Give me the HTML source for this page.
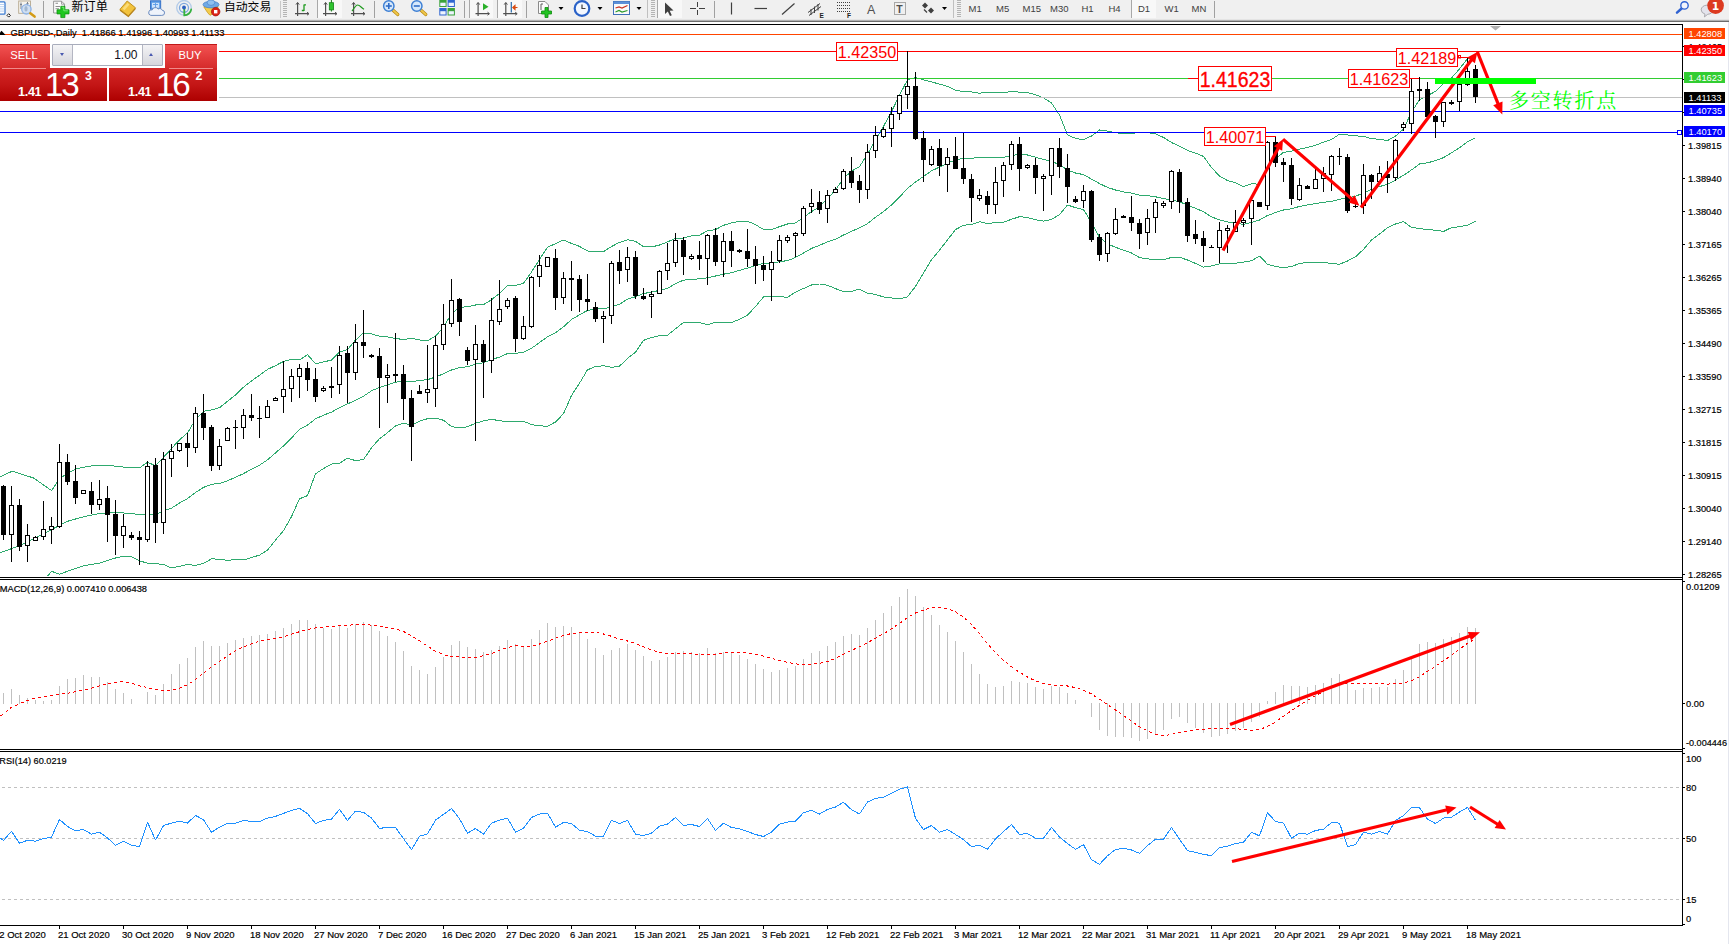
<!DOCTYPE html>
<html><head><meta charset="utf-8"><title>GBPUSD Daily</title>
<style>
html,body{margin:0;padding:0;background:#fff;}
body{width:1729px;height:944px;overflow:hidden;position:relative;font-family:"Liberation Sans","Noto Sans CJK SC",sans-serif;}
svg{position:absolute;left:0;top:0;display:block}
#tw{position:absolute;left:0;top:44px;width:218.5px;height:57px;color:#fff;background:#fff}
#tw div{position:absolute;box-sizing:border-box}
.top{background:linear-gradient(#f25252,#e03838 60%,#d42a2a);border-top:1px solid #c01818;}
.bot{background:linear-gradient(#d32626,#c41616 50%,#ad0000);}
.lbl{font-size:11.2px;line-height:12px;color:#fff;}
.sm{font-size:12.6px;font-weight:bold;line-height:12px;letter-spacing:-0.3px}
.big{font-size:33.2px;line-height:30px;letter-spacing:-2.2px}
.sup{font-size:12.4px;font-weight:bold;line-height:11px}
</style></head><body>
<svg width="1729" height="944" viewBox="0 0 1729 944">
<defs><clipPath id="mainclip"><rect x="0" y="25" width="1682" height="552"/></clipPath></defs>
<rect x="1728" y="22" width="1" height="922" fill="#e4e6ee"/>
<g clip-path="url(#mainclip)">
<polyline points="0.0,476.8 12.2,471.2 33.4,477.9 51.6,490.6 59.4,479.0 67.4,473.4 75.6,469.0 89.0,466.1 106.8,465.2 124.6,467.2 139.5,467.9 147.5,462.3 155.5,465.7 163.5,457.3 171.5,448.5 179.5,439.8 187.5,432.9 195.5,419.5 203.5,411.3 211.5,409.9 219.5,407.7 227.5,401.3 235.5,395.0 243.5,387.2 251.5,380.9 259.5,375.3 267.5,369.4 275.5,365.6 283.5,361.5 291.5,359.2 299.5,360.0 307.5,354.6 315.5,363.8 323.5,361.9 331.5,360.1 339.5,352.0 347.5,349.6 355.5,340.1 363.5,332.9 371.5,333.9 379.5,336.2 387.5,336.9 395.5,338.4 403.5,339.6 411.5,338.3 419.5,340.0 427.5,340.7 435.5,336.1 443.5,327.3 451.5,313.4 459.5,307.4 467.5,306.7 475.5,305.0 483.5,304.7 491.5,299.7 499.5,293.5 507.5,285.6 515.5,285.3 523.5,283.3 531.5,272.0 539.5,259.5 547.5,247.2 555.5,243.7 563.5,240.0 571.5,243.4 579.5,246.4 587.5,251.0 595.5,251.7 603.5,251.6 611.5,246.5 619.5,242.4 627.5,239.8 635.5,241.2 643.5,246.7 651.5,247.0 659.5,245.0 667.5,241.9 675.5,238.5 683.5,238.1 691.5,235.8 699.5,235.1 707.5,230.9 715.5,229.6 723.5,225.3 731.5,222.9 739.5,221.3 747.5,221.2 755.5,224.7 763.5,229.5 771.5,229.4 779.5,226.7 787.5,224.0 795.5,222.9 803.5,217.4 811.5,211.7 819.5,206.6 827.5,198.5 835.5,190.0 843.5,178.3 851.5,171.2 859.5,166.6 867.5,154.1 875.5,140.0 883.5,126.4 891.5,111.7 899.5,95.2 907.5,79.8 915.5,77.5 923.5,79.8 931.5,81.9 939.5,84.1 947.5,86.4 955.5,90.1 963.5,91.6 971.5,91.9 979.5,93.2 987.5,92.4 995.5,92.7 1003.5,92.6 1011.5,91.5 1019.5,92.1 1027.5,92.6 1035.5,94.7 1043.5,97.9 1051.5,102.9 1059.5,114.9 1067.5,134.8 1075.5,138.4 1083.5,139.7 1091.5,136.0 1099.5,129.9 1107.5,131.1 1115.5,132.7 1123.5,133.6 1131.5,133.3 1139.5,132.7 1147.5,132.6 1155.5,133.9 1163.5,137.4 1171.5,142.5 1179.5,146.1 1187.5,150.4 1195.5,153.1 1203.5,156.4 1211.5,167.6 1219.5,176.0 1227.5,180.5 1235.5,182.6 1243.5,186.6 1251.5,183.9 1259.5,184.1 1267.5,166.7 1275.5,158.7 1283.5,152.3 1291.5,151.2 1299.5,149.1 1307.5,147.5 1315.5,145.2 1323.5,142.2 1331.5,139.5 1339.5,134.2 1347.5,134.9 1355.5,135.9 1363.5,136.2 1371.5,138.8 1379.5,139.2 1387.5,140.6 1395.5,136.1 1403.5,129.0 1411.5,112.3 1419.5,99.6 1427.5,95.7 1435.5,91.4 1443.5,83.8 1451.5,78.0 1459.5,68.9 1467.5,58.6 1475.5,54.2" fill="none" stroke="#2eaa6e" stroke-width="1" stroke-linejoin="bevel" shape-rendering="crispEdges"/>
<polyline points="0.0,552.9 19.4,545.7 35.4,538.0 51.4,529.7 67.4,521.3 83.4,516.8 99.4,513.5 115.5,512.4 131.5,513.5 139.5,514.6 155.5,514.7 163.5,510.9 171.5,508.2 179.5,503.0 187.5,498.6 195.5,492.5 203.5,487.4 211.5,484.3 219.5,483.5 227.5,480.8 235.5,477.3 243.5,473.6 251.5,469.2 259.5,465.2 267.5,459.8 275.5,452.9 283.5,446.0 291.5,438.0 299.5,429.4 307.5,425.1 315.5,418.8 323.5,415.2 331.5,412.1 339.5,407.6 347.5,403.9 355.5,400.3 363.5,396.2 371.5,390.8 379.5,387.4 387.5,384.8 395.5,382.2 403.5,381.3 411.5,381.8 419.5,380.5 427.5,379.7 435.5,377.0 443.5,373.8 451.5,370.0 459.5,367.7 467.5,366.7 475.5,364.1 483.5,362.8 491.5,359.4 499.5,357.2 507.5,353.5 515.5,353.3 523.5,352.3 531.5,348.3 539.5,342.6 547.5,336.7 555.5,332.9 563.5,326.8 571.5,319.5 579.5,314.8 587.5,310.4 595.5,309.1 603.5,308.7 611.5,306.9 619.5,304.3 627.5,299.1 635.5,296.7 643.5,293.5 651.5,292.2 659.5,290.3 667.5,288.5 675.5,283.6 683.5,280.2 691.5,279.2 699.5,278.9 707.5,277.8 715.5,276.0 723.5,274.2 731.5,272.7 739.5,270.3 747.5,268.2 755.5,265.6 763.5,263.3 771.5,263.2 779.5,261.7 787.5,260.6 795.5,257.5 803.5,253.0 811.5,248.4 819.5,245.3 827.5,241.9 835.5,239.3 843.5,235.0 851.5,231.3 859.5,227.8 867.5,223.6 875.5,217.3 883.5,211.7 891.5,204.9 899.5,197.1 907.5,188.4 915.5,182.0 923.5,176.5 931.5,170.9 939.5,167.1 947.5,163.1 955.5,159.9 963.5,158.4 971.5,158.2 979.5,157.5 987.5,158.0 995.5,157.6 1003.5,157.3 1011.5,155.4 1019.5,154.4 1027.5,155.0 1035.5,157.2 1043.5,159.5 1051.5,161.2 1059.5,164.8 1067.5,169.9 1075.5,173.0 1083.5,174.6 1091.5,179.1 1099.5,183.6 1107.5,187.4 1115.5,190.0 1123.5,191.9 1131.5,193.1 1139.5,195.1 1147.5,195.7 1155.5,196.8 1163.5,198.6 1171.5,200.0 1179.5,201.7 1187.5,205.2 1195.5,208.3 1203.5,211.8 1211.5,216.8 1219.5,219.9 1227.5,221.9 1235.5,222.9 1243.5,224.4 1251.5,222.4 1259.5,220.0 1267.5,215.5 1275.5,212.6 1283.5,210.0 1291.5,208.8 1299.5,206.4 1307.5,204.9 1315.5,203.7 1323.5,202.3 1331.5,201.5 1339.5,199.2 1347.5,198.0 1355.5,196.3 1363.5,192.8 1371.5,189.5 1379.5,186.6 1387.5,184.2 1395.5,180.1 1403.5,175.3 1411.5,169.9 1419.5,164.0 1427.5,162.8 1435.5,160.7 1443.5,157.6 1451.5,152.8 1459.5,147.8 1467.5,141.8 1475.5,137.8" fill="none" stroke="#2eaa6e" stroke-width="1" stroke-linejoin="bevel" shape-rendering="crispEdges"/>
<polyline points="47.8,575.8 51.6,571.3 59.4,574.2 67.4,571.3 83.4,565.8 99.4,563.1 115.5,558.0 123.5,556.2 131.5,556.9 139.5,560.9 147.5,563.1 155.5,563.7 163.5,564.5 171.5,567.9 179.5,566.3 187.5,564.4 195.5,565.4 203.5,563.5 211.5,558.8 219.5,559.3 227.5,560.3 235.5,559.7 243.5,559.9 251.5,557.6 259.5,555.1 267.5,550.2 275.5,540.1 283.5,530.6 291.5,516.7 299.5,498.8 307.5,495.6 315.5,473.8 323.5,468.5 331.5,464.1 339.5,463.2 347.5,458.2 355.5,460.6 363.5,459.6 371.5,447.7 379.5,438.7 387.5,432.7 395.5,425.9 403.5,423.1 411.5,425.2 419.5,421.1 427.5,418.7 435.5,418.0 443.5,420.3 451.5,426.5 459.5,427.9 467.5,426.8 475.5,423.2 483.5,420.9 491.5,419.2 499.5,420.8 507.5,421.4 515.5,421.3 523.5,421.3 531.5,424.6 539.5,425.8 547.5,426.3 555.5,422.0 563.5,413.7 571.5,395.5 579.5,383.2 587.5,369.8 595.5,366.5 603.5,365.8 611.5,367.3 619.5,366.2 627.5,358.4 635.5,352.2 643.5,340.4 651.5,337.5 659.5,335.7 667.5,335.2 675.5,328.8 683.5,322.4 691.5,322.6 699.5,322.7 707.5,324.7 715.5,322.4 723.5,323.0 731.5,322.5 739.5,319.3 747.5,315.2 755.5,306.5 763.5,297.0 771.5,296.9 779.5,296.7 787.5,297.3 795.5,292.1 803.5,288.5 811.5,285.0 819.5,284.0 827.5,285.3 835.5,288.6 843.5,291.6 851.5,291.4 859.5,289.1 867.5,293.1 875.5,294.5 883.5,296.9 891.5,298.0 899.5,299.0 907.5,296.9 915.5,286.4 923.5,273.1 931.5,259.8 939.5,250.2 947.5,239.9 955.5,229.6 963.5,225.2 971.5,224.5 979.5,221.7 987.5,223.5 995.5,222.6 1003.5,222.1 1011.5,219.3 1019.5,216.7 1027.5,217.5 1035.5,219.7 1043.5,221.1 1051.5,219.5 1059.5,214.7 1067.5,205.0 1075.5,207.7 1083.5,209.6 1091.5,222.3 1099.5,237.3 1107.5,243.8 1115.5,247.3 1123.5,250.1 1131.5,253.0 1139.5,257.5 1147.5,258.9 1155.5,259.6 1163.5,259.8 1171.5,257.4 1179.5,257.3 1187.5,260.0 1195.5,263.4 1203.5,267.1 1211.5,266.0 1219.5,263.8 1227.5,263.4 1235.5,263.3 1243.5,262.1 1251.5,260.8 1259.5,256.0 1267.5,264.3 1275.5,266.5 1283.5,267.8 1291.5,266.4 1299.5,263.6 1307.5,262.3 1315.5,262.3 1323.5,262.3 1331.5,263.5 1339.5,264.2 1347.5,261.0 1355.5,256.8 1363.5,249.4 1371.5,240.1 1379.5,234.1 1387.5,227.7 1395.5,224.0 1403.5,221.6 1411.5,227.5 1419.5,228.5 1427.5,229.8 1435.5,230.1 1443.5,231.5 1451.5,227.6 1459.5,226.7 1467.5,225.1 1475.5,221.4" fill="none" stroke="#2eaa6e" stroke-width="1" stroke-linejoin="bevel" shape-rendering="crispEdges"/>
</g>
<rect x="0" y="34" width="1682" height="1" fill="#ff4500"/>
<rect x="0" y="51" width="1682" height="1" fill="#ff0000"/>
<rect x="0" y="78" width="1682" height="1" fill="#32cd32"/>
<rect x="1188" y="78" width="10" height="1" fill="#ff0000"/>
<rect x="1409" y="78" width="11" height="1" fill="#ff0000"/>
<rect x="0" y="97" width="1682" height="1" fill="#c0c0c0"/>
<rect x="0" y="111" width="1682" height="1" fill="#0000ff"/>
<rect x="0" y="132" width="1682" height="1" fill="#0000ff"/>
<g shape-rendering="crispEdges">
<rect x="3" y="485" width="1" height="55" fill="#000"/>
<rect x="1" y="486" width="5" height="49" fill="#000"/>
<rect x="11" y="486" width="1" height="76" fill="#000"/>
<rect x="9" y="505" width="5" height="30" fill="#000"/>
<rect x="10" y="506" width="3" height="28" fill="#fff"/>
<rect x="19" y="499" width="1" height="52" fill="#000"/>
<rect x="17" y="505" width="5" height="42" fill="#000"/>
<rect x="27" y="524" width="1" height="38" fill="#000"/>
<rect x="25" y="535" width="5" height="11" fill="#000"/>
<rect x="26" y="536" width="3" height="9" fill="#fff"/>
<rect x="35" y="536" width="1" height="5" fill="#000"/>
<rect x="33" y="537" width="5" height="4" fill="#000"/>
<rect x="34" y="538" width="3" height="2" fill="#fff"/>
<rect x="43" y="501" width="1" height="39" fill="#000"/>
<rect x="41" y="529" width="5" height="8" fill="#000"/>
<rect x="42" y="530" width="3" height="6" fill="#fff"/>
<rect x="51" y="517" width="1" height="27" fill="#000"/>
<rect x="49" y="526" width="5" height="4" fill="#000"/>
<rect x="50" y="527" width="3" height="2" fill="#fff"/>
<rect x="59" y="444" width="1" height="84" fill="#000"/>
<rect x="57" y="462" width="5" height="65" fill="#000"/>
<rect x="58" y="463" width="3" height="63" fill="#fff"/>
<rect x="67" y="454" width="1" height="31" fill="#000"/>
<rect x="65" y="462" width="5" height="20" fill="#000"/>
<rect x="75" y="465" width="1" height="39" fill="#000"/>
<rect x="73" y="481" width="5" height="17" fill="#000"/>
<rect x="83" y="490" width="1" height="4" fill="#000"/>
<rect x="81" y="490" width="5" height="4" fill="#000"/>
<rect x="82" y="491" width="3" height="2" fill="#fff"/>
<rect x="91" y="482" width="1" height="32" fill="#000"/>
<rect x="89" y="491" width="5" height="14" fill="#000"/>
<rect x="99" y="480" width="1" height="30" fill="#000"/>
<rect x="97" y="499" width="5" height="6" fill="#000"/>
<rect x="98" y="500" width="3" height="4" fill="#fff"/>
<rect x="107" y="486" width="1" height="56" fill="#000"/>
<rect x="105" y="498" width="5" height="17" fill="#000"/>
<rect x="115" y="500" width="1" height="55" fill="#000"/>
<rect x="113" y="514" width="5" height="22" fill="#000"/>
<rect x="123" y="514" width="1" height="34" fill="#000"/>
<rect x="121" y="526" width="5" height="10" fill="#000"/>
<rect x="122" y="527" width="3" height="8" fill="#fff"/>
<rect x="131" y="532" width="1" height="8" fill="#000"/>
<rect x="129" y="535" width="5" height="3" fill="#000"/>
<rect x="139" y="531" width="1" height="34" fill="#000"/>
<rect x="137" y="537" width="5" height="3" fill="#000"/>
<rect x="147" y="461" width="1" height="81" fill="#000"/>
<rect x="145" y="466" width="5" height="74" fill="#000"/>
<rect x="146" y="467" width="3" height="72" fill="#fff"/>
<rect x="155" y="458" width="1" height="85" fill="#000"/>
<rect x="153" y="465" width="5" height="58" fill="#000"/>
<rect x="163" y="452" width="1" height="82" fill="#000"/>
<rect x="161" y="459" width="5" height="64" fill="#000"/>
<rect x="162" y="460" width="3" height="62" fill="#fff"/>
<rect x="171" y="444" width="1" height="33" fill="#000"/>
<rect x="169" y="451" width="5" height="8" fill="#000"/>
<rect x="170" y="452" width="3" height="6" fill="#fff"/>
<rect x="179" y="443" width="1" height="9" fill="#000"/>
<rect x="177" y="443" width="5" height="8" fill="#000"/>
<rect x="178" y="444" width="3" height="6" fill="#fff"/>
<rect x="187" y="433" width="1" height="34" fill="#000"/>
<rect x="185" y="443" width="5" height="5" fill="#000"/>
<rect x="195" y="407" width="1" height="46" fill="#000"/>
<rect x="193" y="413" width="5" height="35" fill="#000"/>
<rect x="194" y="414" width="3" height="33" fill="#fff"/>
<rect x="203" y="394" width="1" height="46" fill="#000"/>
<rect x="201" y="413" width="5" height="15" fill="#000"/>
<rect x="211" y="425" width="1" height="46" fill="#000"/>
<rect x="209" y="427" width="5" height="39" fill="#000"/>
<rect x="219" y="439" width="1" height="31" fill="#000"/>
<rect x="217" y="446" width="5" height="20" fill="#000"/>
<rect x="218" y="447" width="3" height="18" fill="#fff"/>
<rect x="227" y="427" width="1" height="14" fill="#000"/>
<rect x="225" y="428" width="5" height="13" fill="#000"/>
<rect x="226" y="429" width="3" height="11" fill="#fff"/>
<rect x="235" y="420" width="1" height="29" fill="#000"/>
<rect x="233" y="427" width="5" height="1" fill="#000"/>
<rect x="243" y="409" width="1" height="30" fill="#000"/>
<rect x="241" y="415" width="5" height="13" fill="#000"/>
<rect x="242" y="416" width="3" height="11" fill="#fff"/>
<rect x="251" y="394" width="1" height="27" fill="#000"/>
<rect x="249" y="415" width="5" height="3" fill="#000"/>
<rect x="259" y="406" width="1" height="32" fill="#000"/>
<rect x="257" y="418" width="5" height="1" fill="#000"/>
<rect x="267" y="400" width="1" height="18" fill="#000"/>
<rect x="265" y="406" width="5" height="12" fill="#000"/>
<rect x="266" y="407" width="3" height="10" fill="#fff"/>
<rect x="275" y="397" width="1" height="4" fill="#000"/>
<rect x="273" y="398" width="5" height="3" fill="#000"/>
<rect x="274" y="399" width="3" height="1" fill="#fff"/>
<rect x="283" y="361" width="1" height="52" fill="#000"/>
<rect x="281" y="389" width="5" height="8" fill="#000"/>
<rect x="282" y="390" width="3" height="6" fill="#fff"/>
<rect x="291" y="369" width="1" height="33" fill="#000"/>
<rect x="289" y="376" width="5" height="13" fill="#000"/>
<rect x="290" y="377" width="3" height="11" fill="#fff"/>
<rect x="299" y="364" width="1" height="34" fill="#000"/>
<rect x="297" y="368" width="5" height="9" fill="#000"/>
<rect x="298" y="369" width="3" height="7" fill="#fff"/>
<rect x="307" y="362" width="1" height="29" fill="#000"/>
<rect x="305" y="368" width="5" height="12" fill="#000"/>
<rect x="315" y="368" width="1" height="34" fill="#000"/>
<rect x="313" y="379" width="5" height="18" fill="#000"/>
<rect x="323" y="386" width="1" height="6" fill="#000"/>
<rect x="321" y="388" width="5" height="3" fill="#000"/>
<rect x="322" y="389" width="3" height="1" fill="#fff"/>
<rect x="331" y="367" width="1" height="31" fill="#000"/>
<rect x="329" y="386" width="5" height="2" fill="#000"/>
<rect x="339" y="346" width="1" height="48" fill="#000"/>
<rect x="337" y="355" width="5" height="30" fill="#000"/>
<rect x="338" y="356" width="3" height="28" fill="#fff"/>
<rect x="347" y="346" width="1" height="57" fill="#000"/>
<rect x="345" y="353" width="5" height="20" fill="#000"/>
<rect x="355" y="324" width="1" height="56" fill="#000"/>
<rect x="353" y="342" width="5" height="31" fill="#000"/>
<rect x="354" y="343" width="3" height="29" fill="#fff"/>
<rect x="363" y="310" width="1" height="48" fill="#000"/>
<rect x="361" y="342" width="5" height="4" fill="#000"/>
<rect x="371" y="354" width="1" height="4" fill="#000"/>
<rect x="369" y="355" width="5" height="2" fill="#000"/>
<rect x="379" y="348" width="1" height="80" fill="#000"/>
<rect x="377" y="356" width="5" height="22" fill="#000"/>
<rect x="387" y="364" width="1" height="39" fill="#000"/>
<rect x="385" y="375" width="5" height="3" fill="#000"/>
<rect x="386" y="376" width="3" height="1" fill="#fff"/>
<rect x="395" y="333" width="1" height="49" fill="#000"/>
<rect x="393" y="374" width="5" height="2" fill="#000"/>
<rect x="403" y="365" width="1" height="55" fill="#000"/>
<rect x="401" y="374" width="5" height="25" fill="#000"/>
<rect x="411" y="390" width="1" height="71" fill="#000"/>
<rect x="409" y="398" width="5" height="29" fill="#000"/>
<rect x="419" y="385" width="1" height="9" fill="#000"/>
<rect x="417" y="391" width="5" height="3" fill="#000"/>
<rect x="427" y="345" width="1" height="58" fill="#000"/>
<rect x="425" y="389" width="5" height="4" fill="#000"/>
<rect x="426" y="390" width="3" height="2" fill="#fff"/>
<rect x="435" y="336" width="1" height="71" fill="#000"/>
<rect x="433" y="345" width="5" height="44" fill="#000"/>
<rect x="434" y="346" width="3" height="42" fill="#fff"/>
<rect x="443" y="304" width="1" height="46" fill="#000"/>
<rect x="441" y="324" width="5" height="21" fill="#000"/>
<rect x="442" y="325" width="3" height="19" fill="#fff"/>
<rect x="451" y="279" width="1" height="48" fill="#000"/>
<rect x="449" y="300" width="5" height="24" fill="#000"/>
<rect x="450" y="301" width="3" height="22" fill="#fff"/>
<rect x="459" y="298" width="1" height="38" fill="#000"/>
<rect x="457" y="299" width="5" height="23" fill="#000"/>
<rect x="467" y="347" width="1" height="18" fill="#000"/>
<rect x="465" y="350" width="5" height="11" fill="#000"/>
<rect x="475" y="325" width="1" height="116" fill="#000"/>
<rect x="473" y="344" width="5" height="16" fill="#000"/>
<rect x="474" y="345" width="3" height="14" fill="#fff"/>
<rect x="483" y="340" width="1" height="58" fill="#000"/>
<rect x="481" y="344" width="5" height="18" fill="#000"/>
<rect x="491" y="298" width="1" height="75" fill="#000"/>
<rect x="489" y="320" width="5" height="41" fill="#000"/>
<rect x="490" y="321" width="3" height="39" fill="#fff"/>
<rect x="499" y="280" width="1" height="45" fill="#000"/>
<rect x="497" y="309" width="5" height="13" fill="#000"/>
<rect x="498" y="310" width="3" height="11" fill="#fff"/>
<rect x="507" y="298" width="1" height="11" fill="#000"/>
<rect x="505" y="300" width="5" height="7" fill="#000"/>
<rect x="506" y="301" width="3" height="5" fill="#fff"/>
<rect x="515" y="296" width="1" height="56" fill="#000"/>
<rect x="513" y="298" width="5" height="41" fill="#000"/>
<rect x="523" y="316" width="1" height="24" fill="#000"/>
<rect x="521" y="326" width="5" height="13" fill="#000"/>
<rect x="522" y="327" width="3" height="11" fill="#fff"/>
<rect x="531" y="276" width="1" height="52" fill="#000"/>
<rect x="529" y="277" width="5" height="50" fill="#000"/>
<rect x="530" y="278" width="3" height="48" fill="#fff"/>
<rect x="539" y="255" width="1" height="32" fill="#000"/>
<rect x="537" y="265" width="5" height="12" fill="#000"/>
<rect x="538" y="266" width="3" height="10" fill="#fff"/>
<rect x="547" y="257" width="1" height="10" fill="#000"/>
<rect x="545" y="257" width="5" height="10" fill="#000"/>
<rect x="546" y="258" width="3" height="8" fill="#fff"/>
<rect x="555" y="249" width="1" height="61" fill="#000"/>
<rect x="553" y="258" width="5" height="40" fill="#000"/>
<rect x="563" y="272" width="1" height="32" fill="#000"/>
<rect x="561" y="278" width="5" height="20" fill="#000"/>
<rect x="562" y="279" width="3" height="18" fill="#fff"/>
<rect x="571" y="261" width="1" height="50" fill="#000"/>
<rect x="569" y="278" width="5" height="2" fill="#000"/>
<rect x="579" y="275" width="1" height="37" fill="#000"/>
<rect x="577" y="279" width="5" height="21" fill="#000"/>
<rect x="587" y="274" width="1" height="37" fill="#000"/>
<rect x="585" y="299" width="5" height="3" fill="#000"/>
<rect x="595" y="302" width="1" height="20" fill="#000"/>
<rect x="593" y="307" width="5" height="12" fill="#000"/>
<rect x="603" y="311" width="1" height="32" fill="#000"/>
<rect x="601" y="316" width="5" height="3" fill="#000"/>
<rect x="602" y="317" width="3" height="1" fill="#fff"/>
<rect x="611" y="261" width="1" height="63" fill="#000"/>
<rect x="609" y="263" width="5" height="53" fill="#000"/>
<rect x="610" y="264" width="3" height="51" fill="#fff"/>
<rect x="619" y="250" width="1" height="34" fill="#000"/>
<rect x="617" y="262" width="5" height="9" fill="#000"/>
<rect x="627" y="247" width="1" height="35" fill="#000"/>
<rect x="625" y="257" width="5" height="13" fill="#000"/>
<rect x="626" y="258" width="3" height="11" fill="#fff"/>
<rect x="635" y="251" width="1" height="48" fill="#000"/>
<rect x="633" y="257" width="5" height="39" fill="#000"/>
<rect x="643" y="288" width="1" height="12" fill="#000"/>
<rect x="641" y="296" width="5" height="3" fill="#000"/>
<rect x="651" y="291" width="1" height="27" fill="#000"/>
<rect x="649" y="294" width="5" height="3" fill="#000"/>
<rect x="650" y="295" width="3" height="1" fill="#fff"/>
<rect x="659" y="270" width="1" height="24" fill="#000"/>
<rect x="657" y="271" width="5" height="23" fill="#000"/>
<rect x="658" y="272" width="3" height="21" fill="#fff"/>
<rect x="667" y="243" width="1" height="37" fill="#000"/>
<rect x="665" y="263" width="5" height="8" fill="#000"/>
<rect x="666" y="264" width="3" height="6" fill="#fff"/>
<rect x="675" y="233" width="1" height="34" fill="#000"/>
<rect x="673" y="240" width="5" height="23" fill="#000"/>
<rect x="674" y="241" width="3" height="21" fill="#fff"/>
<rect x="683" y="237" width="1" height="38" fill="#000"/>
<rect x="681" y="240" width="5" height="17" fill="#000"/>
<rect x="691" y="254" width="1" height="6" fill="#000"/>
<rect x="689" y="256" width="5" height="3" fill="#000"/>
<rect x="690" y="257" width="3" height="1" fill="#fff"/>
<rect x="699" y="241" width="1" height="29" fill="#000"/>
<rect x="697" y="255" width="5" height="4" fill="#000"/>
<rect x="707" y="234" width="1" height="51" fill="#000"/>
<rect x="705" y="235" width="5" height="24" fill="#000"/>
<rect x="706" y="236" width="3" height="22" fill="#fff"/>
<rect x="715" y="228" width="1" height="38" fill="#000"/>
<rect x="713" y="235" width="5" height="27" fill="#000"/>
<rect x="723" y="233" width="1" height="44" fill="#000"/>
<rect x="721" y="241" width="5" height="21" fill="#000"/>
<rect x="722" y="242" width="3" height="19" fill="#fff"/>
<rect x="731" y="231" width="1" height="36" fill="#000"/>
<rect x="729" y="241" width="5" height="10" fill="#000"/>
<rect x="739" y="249" width="1" height="4" fill="#000"/>
<rect x="737" y="250" width="5" height="2" fill="#000"/>
<rect x="747" y="229" width="1" height="38" fill="#000"/>
<rect x="745" y="251" width="5" height="8" fill="#000"/>
<rect x="755" y="246" width="1" height="38" fill="#000"/>
<rect x="753" y="259" width="5" height="7" fill="#000"/>
<rect x="763" y="256" width="1" height="25" fill="#000"/>
<rect x="761" y="265" width="5" height="5" fill="#000"/>
<rect x="771" y="251" width="1" height="50" fill="#000"/>
<rect x="769" y="262" width="5" height="8" fill="#000"/>
<rect x="770" y="263" width="3" height="6" fill="#fff"/>
<rect x="779" y="235" width="1" height="28" fill="#000"/>
<rect x="777" y="240" width="5" height="21" fill="#000"/>
<rect x="778" y="241" width="3" height="19" fill="#fff"/>
<rect x="787" y="235" width="1" height="8" fill="#000"/>
<rect x="785" y="237" width="5" height="4" fill="#000"/>
<rect x="786" y="238" width="3" height="2" fill="#fff"/>
<rect x="795" y="232" width="1" height="25" fill="#000"/>
<rect x="793" y="233" width="5" height="3" fill="#000"/>
<rect x="794" y="234" width="3" height="1" fill="#fff"/>
<rect x="803" y="206" width="1" height="30" fill="#000"/>
<rect x="801" y="208" width="5" height="26" fill="#000"/>
<rect x="802" y="209" width="3" height="24" fill="#fff"/>
<rect x="811" y="189" width="1" height="24" fill="#000"/>
<rect x="809" y="203" width="5" height="4" fill="#000"/>
<rect x="810" y="204" width="3" height="2" fill="#fff"/>
<rect x="819" y="191" width="1" height="23" fill="#000"/>
<rect x="817" y="202" width="5" height="8" fill="#000"/>
<rect x="827" y="190" width="1" height="33" fill="#000"/>
<rect x="825" y="195" width="5" height="14" fill="#000"/>
<rect x="826" y="196" width="3" height="12" fill="#fff"/>
<rect x="835" y="187" width="1" height="6" fill="#000"/>
<rect x="833" y="189" width="5" height="4" fill="#000"/>
<rect x="834" y="190" width="3" height="2" fill="#fff"/>
<rect x="843" y="169" width="1" height="21" fill="#000"/>
<rect x="841" y="171" width="5" height="18" fill="#000"/>
<rect x="842" y="172" width="3" height="16" fill="#fff"/>
<rect x="851" y="157" width="1" height="31" fill="#000"/>
<rect x="849" y="171" width="5" height="12" fill="#000"/>
<rect x="859" y="175" width="1" height="28" fill="#000"/>
<rect x="857" y="181" width="5" height="9" fill="#000"/>
<rect x="867" y="144" width="1" height="55" fill="#000"/>
<rect x="865" y="152" width="5" height="38" fill="#000"/>
<rect x="866" y="153" width="3" height="36" fill="#fff"/>
<rect x="875" y="126" width="1" height="32" fill="#000"/>
<rect x="873" y="135" width="5" height="16" fill="#000"/>
<rect x="874" y="136" width="3" height="14" fill="#fff"/>
<rect x="883" y="127" width="1" height="11" fill="#000"/>
<rect x="881" y="129" width="5" height="8" fill="#000"/>
<rect x="882" y="130" width="3" height="6" fill="#fff"/>
<rect x="891" y="107" width="1" height="40" fill="#000"/>
<rect x="889" y="114" width="5" height="15" fill="#000"/>
<rect x="890" y="115" width="3" height="13" fill="#fff"/>
<rect x="899" y="95" width="1" height="25" fill="#000"/>
<rect x="897" y="95" width="5" height="19" fill="#000"/>
<rect x="898" y="96" width="3" height="17" fill="#fff"/>
<rect x="907" y="51" width="1" height="58" fill="#000"/>
<rect x="905" y="86" width="5" height="9" fill="#000"/>
<rect x="906" y="87" width="3" height="7" fill="#fff"/>
<rect x="915" y="72" width="1" height="68" fill="#000"/>
<rect x="913" y="86" width="5" height="53" fill="#000"/>
<rect x="923" y="131" width="1" height="51" fill="#000"/>
<rect x="921" y="138" width="5" height="22" fill="#000"/>
<rect x="931" y="146" width="1" height="20" fill="#000"/>
<rect x="929" y="149" width="5" height="16" fill="#000"/>
<rect x="930" y="150" width="3" height="14" fill="#fff"/>
<rect x="939" y="139" width="1" height="37" fill="#000"/>
<rect x="937" y="148" width="5" height="18" fill="#000"/>
<rect x="947" y="148" width="1" height="44" fill="#000"/>
<rect x="945" y="157" width="5" height="8" fill="#000"/>
<rect x="946" y="158" width="3" height="6" fill="#fff"/>
<rect x="955" y="137" width="1" height="32" fill="#000"/>
<rect x="953" y="156" width="5" height="13" fill="#000"/>
<rect x="963" y="133" width="1" height="51" fill="#000"/>
<rect x="961" y="168" width="5" height="11" fill="#000"/>
<rect x="971" y="174" width="1" height="48" fill="#000"/>
<rect x="969" y="179" width="5" height="19" fill="#000"/>
<rect x="979" y="189" width="1" height="12" fill="#000"/>
<rect x="977" y="195" width="5" height="4" fill="#000"/>
<rect x="978" y="196" width="3" height="2" fill="#fff"/>
<rect x="987" y="191" width="1" height="23" fill="#000"/>
<rect x="985" y="196" width="5" height="9" fill="#000"/>
<rect x="995" y="167" width="1" height="47" fill="#000"/>
<rect x="993" y="182" width="5" height="23" fill="#000"/>
<rect x="994" y="183" width="3" height="21" fill="#fff"/>
<rect x="1003" y="162" width="1" height="35" fill="#000"/>
<rect x="1001" y="165" width="5" height="16" fill="#000"/>
<rect x="1002" y="166" width="3" height="14" fill="#fff"/>
<rect x="1011" y="141" width="1" height="29" fill="#000"/>
<rect x="1009" y="144" width="5" height="21" fill="#000"/>
<rect x="1010" y="145" width="3" height="19" fill="#fff"/>
<rect x="1019" y="137" width="1" height="54" fill="#000"/>
<rect x="1017" y="144" width="5" height="25" fill="#000"/>
<rect x="1027" y="164" width="1" height="5" fill="#000"/>
<rect x="1025" y="165" width="5" height="3" fill="#000"/>
<rect x="1026" y="166" width="3" height="1" fill="#fff"/>
<rect x="1035" y="158" width="1" height="36" fill="#000"/>
<rect x="1033" y="165" width="5" height="13" fill="#000"/>
<rect x="1043" y="174" width="1" height="37" fill="#000"/>
<rect x="1041" y="176" width="5" height="3" fill="#000"/>
<rect x="1042" y="177" width="3" height="1" fill="#fff"/>
<rect x="1051" y="148" width="1" height="47" fill="#000"/>
<rect x="1049" y="148" width="5" height="28" fill="#000"/>
<rect x="1050" y="149" width="3" height="26" fill="#fff"/>
<rect x="1059" y="138" width="1" height="40" fill="#000"/>
<rect x="1057" y="148" width="5" height="19" fill="#000"/>
<rect x="1067" y="154" width="1" height="49" fill="#000"/>
<rect x="1065" y="168" width="5" height="19" fill="#000"/>
<rect x="1075" y="196" width="1" height="7" fill="#000"/>
<rect x="1073" y="199" width="5" height="3" fill="#000"/>
<rect x="1083" y="185" width="1" height="23" fill="#000"/>
<rect x="1081" y="191" width="5" height="10" fill="#000"/>
<rect x="1082" y="192" width="3" height="8" fill="#fff"/>
<rect x="1091" y="190" width="1" height="52" fill="#000"/>
<rect x="1089" y="191" width="5" height="49" fill="#000"/>
<rect x="1099" y="234" width="1" height="27" fill="#000"/>
<rect x="1097" y="237" width="5" height="18" fill="#000"/>
<rect x="1107" y="232" width="1" height="30" fill="#000"/>
<rect x="1105" y="233" width="5" height="21" fill="#000"/>
<rect x="1106" y="234" width="3" height="19" fill="#fff"/>
<rect x="1115" y="208" width="1" height="27" fill="#000"/>
<rect x="1113" y="219" width="5" height="15" fill="#000"/>
<rect x="1114" y="220" width="3" height="13" fill="#fff"/>
<rect x="1123" y="215" width="1" height="3" fill="#000"/>
<rect x="1121" y="216" width="5" height="2" fill="#000"/>
<rect x="1131" y="196" width="1" height="35" fill="#000"/>
<rect x="1129" y="217" width="5" height="6" fill="#000"/>
<rect x="1139" y="219" width="1" height="30" fill="#000"/>
<rect x="1137" y="223" width="5" height="11" fill="#000"/>
<rect x="1147" y="209" width="1" height="36" fill="#000"/>
<rect x="1145" y="218" width="5" height="15" fill="#000"/>
<rect x="1146" y="219" width="3" height="13" fill="#fff"/>
<rect x="1155" y="199" width="1" height="34" fill="#000"/>
<rect x="1153" y="202" width="5" height="16" fill="#000"/>
<rect x="1154" y="203" width="3" height="14" fill="#fff"/>
<rect x="1163" y="201" width="1" height="7" fill="#000"/>
<rect x="1161" y="203" width="5" height="3" fill="#000"/>
<rect x="1162" y="204" width="3" height="1" fill="#fff"/>
<rect x="1171" y="170" width="1" height="39" fill="#000"/>
<rect x="1169" y="171" width="5" height="31" fill="#000"/>
<rect x="1170" y="172" width="3" height="29" fill="#fff"/>
<rect x="1179" y="169" width="1" height="44" fill="#000"/>
<rect x="1177" y="172" width="5" height="30" fill="#000"/>
<rect x="1187" y="198" width="1" height="44" fill="#000"/>
<rect x="1185" y="202" width="5" height="34" fill="#000"/>
<rect x="1195" y="220" width="1" height="24" fill="#000"/>
<rect x="1193" y="234" width="5" height="5" fill="#000"/>
<rect x="1203" y="231" width="1" height="31" fill="#000"/>
<rect x="1201" y="238" width="5" height="8" fill="#000"/>
<rect x="1211" y="245" width="1" height="3" fill="#000"/>
<rect x="1209" y="247" width="5" height="1" fill="#000"/>
<rect x="1219" y="222" width="1" height="41" fill="#000"/>
<rect x="1217" y="230" width="5" height="18" fill="#000"/>
<rect x="1218" y="231" width="3" height="16" fill="#fff"/>
<rect x="1227" y="225" width="1" height="28" fill="#000"/>
<rect x="1225" y="228" width="5" height="3" fill="#000"/>
<rect x="1226" y="229" width="3" height="1" fill="#fff"/>
<rect x="1235" y="210" width="1" height="22" fill="#000"/>
<rect x="1233" y="222" width="5" height="10" fill="#000"/>
<rect x="1234" y="223" width="3" height="8" fill="#fff"/>
<rect x="1243" y="218" width="1" height="9" fill="#000"/>
<rect x="1241" y="220" width="5" height="3" fill="#000"/>
<rect x="1242" y="221" width="3" height="1" fill="#fff"/>
<rect x="1251" y="200" width="1" height="45" fill="#000"/>
<rect x="1249" y="200" width="5" height="19" fill="#000"/>
<rect x="1250" y="201" width="3" height="17" fill="#fff"/>
<rect x="1259" y="202" width="1" height="5" fill="#000"/>
<rect x="1257" y="202" width="5" height="5" fill="#000"/>
<rect x="1267" y="141" width="1" height="69" fill="#000"/>
<rect x="1265" y="142" width="5" height="64" fill="#000"/>
<rect x="1266" y="143" width="3" height="62" fill="#fff"/>
<rect x="1275" y="136" width="1" height="31" fill="#000"/>
<rect x="1273" y="142" width="5" height="21" fill="#000"/>
<rect x="1283" y="158" width="1" height="24" fill="#000"/>
<rect x="1281" y="162" width="5" height="3" fill="#000"/>
<rect x="1291" y="158" width="1" height="47" fill="#000"/>
<rect x="1289" y="165" width="5" height="34" fill="#000"/>
<rect x="1299" y="178" width="1" height="23" fill="#000"/>
<rect x="1297" y="185" width="5" height="15" fill="#000"/>
<rect x="1298" y="186" width="3" height="13" fill="#fff"/>
<rect x="1307" y="185" width="1" height="4" fill="#000"/>
<rect x="1305" y="186" width="5" height="3" fill="#000"/>
<rect x="1315" y="166" width="1" height="23" fill="#000"/>
<rect x="1313" y="179" width="5" height="10" fill="#000"/>
<rect x="1314" y="180" width="3" height="8" fill="#fff"/>
<rect x="1323" y="167" width="1" height="25" fill="#000"/>
<rect x="1321" y="173" width="5" height="6" fill="#000"/>
<rect x="1322" y="174" width="3" height="4" fill="#fff"/>
<rect x="1331" y="155" width="1" height="36" fill="#000"/>
<rect x="1329" y="156" width="5" height="19" fill="#000"/>
<rect x="1330" y="157" width="3" height="17" fill="#fff"/>
<rect x="1339" y="148" width="1" height="17" fill="#000"/>
<rect x="1337" y="156" width="5" height="1" fill="#000"/>
<rect x="1347" y="154" width="1" height="59" fill="#000"/>
<rect x="1345" y="157" width="5" height="54" fill="#000"/>
<rect x="1355" y="203" width="1" height="5" fill="#000"/>
<rect x="1353" y="206" width="5" height="1" fill="#000"/>
<rect x="1363" y="164" width="1" height="50" fill="#000"/>
<rect x="1361" y="175" width="5" height="31" fill="#000"/>
<rect x="1362" y="176" width="3" height="29" fill="#fff"/>
<rect x="1371" y="174" width="1" height="25" fill="#000"/>
<rect x="1369" y="175" width="5" height="7" fill="#000"/>
<rect x="1379" y="166" width="1" height="16" fill="#000"/>
<rect x="1377" y="173" width="5" height="9" fill="#000"/>
<rect x="1378" y="174" width="3" height="7" fill="#fff"/>
<rect x="1387" y="161" width="1" height="32" fill="#000"/>
<rect x="1385" y="174" width="5" height="4" fill="#000"/>
<rect x="1395" y="139" width="1" height="42" fill="#000"/>
<rect x="1393" y="140" width="5" height="38" fill="#000"/>
<rect x="1394" y="141" width="3" height="36" fill="#fff"/>
<rect x="1403" y="122" width="1" height="9" fill="#000"/>
<rect x="1401" y="124" width="5" height="4" fill="#000"/>
<rect x="1402" y="125" width="3" height="2" fill="#fff"/>
<rect x="1411" y="79" width="1" height="55" fill="#000"/>
<rect x="1409" y="91" width="5" height="33" fill="#000"/>
<rect x="1410" y="92" width="3" height="31" fill="#fff"/>
<rect x="1419" y="77" width="1" height="24" fill="#000"/>
<rect x="1417" y="89" width="5" height="2" fill="#000"/>
<rect x="1427" y="82" width="1" height="35" fill="#000"/>
<rect x="1425" y="89" width="5" height="28" fill="#000"/>
<rect x="1435" y="115" width="1" height="23" fill="#000"/>
<rect x="1433" y="116" width="5" height="6" fill="#000"/>
<rect x="1443" y="102" width="1" height="25" fill="#000"/>
<rect x="1441" y="102" width="5" height="20" fill="#000"/>
<rect x="1442" y="103" width="3" height="18" fill="#fff"/>
<rect x="1451" y="100" width="1" height="5" fill="#000"/>
<rect x="1449" y="102" width="5" height="2" fill="#000"/>
<rect x="1459" y="84" width="1" height="27" fill="#000"/>
<rect x="1457" y="84" width="5" height="18" fill="#000"/>
<rect x="1458" y="85" width="3" height="16" fill="#fff"/>
<rect x="1467" y="57" width="1" height="29" fill="#000"/>
<rect x="1465" y="71" width="5" height="14" fill="#000"/>
<rect x="1466" y="72" width="3" height="12" fill="#fff"/>
<rect x="1475" y="65" width="1" height="38" fill="#000"/>
<rect x="1473" y="69" width="5" height="28" fill="#000"/>
</g>
<g shape-rendering="crispEdges">
<rect x="3" y="693" width="1" height="11" fill="#c0c0c0"/>
<rect x="11" y="689" width="1" height="15" fill="#c0c0c0"/>
<rect x="19" y="695" width="1" height="9" fill="#c0c0c0"/>
<rect x="27" y="698" width="1" height="6" fill="#c0c0c0"/>
<rect x="35" y="700" width="1" height="4" fill="#c0c0c0"/>
<rect x="43" y="701" width="1" height="3" fill="#c0c0c0"/>
<rect x="51" y="700" width="1" height="4" fill="#c0c0c0"/>
<rect x="59" y="686" width="1" height="18" fill="#c0c0c0"/>
<rect x="67" y="679" width="1" height="25" fill="#c0c0c0"/>
<rect x="75" y="678" width="1" height="26" fill="#c0c0c0"/>
<rect x="83" y="675" width="1" height="29" fill="#c0c0c0"/>
<rect x="91" y="677" width="1" height="27" fill="#c0c0c0"/>
<rect x="99" y="677" width="1" height="27" fill="#c0c0c0"/>
<rect x="107" y="682" width="1" height="22" fill="#c0c0c0"/>
<rect x="115" y="689" width="1" height="15" fill="#c0c0c0"/>
<rect x="123" y="693" width="1" height="11" fill="#c0c0c0"/>
<rect x="131" y="699" width="1" height="5" fill="#c0c0c0"/>
<rect x="147" y="692" width="1" height="12" fill="#c0c0c0"/>
<rect x="155" y="695" width="1" height="9" fill="#c0c0c0"/>
<rect x="163" y="684" width="1" height="20" fill="#c0c0c0"/>
<rect x="171" y="674" width="1" height="30" fill="#c0c0c0"/>
<rect x="179" y="664" width="1" height="40" fill="#c0c0c0"/>
<rect x="187" y="658" width="1" height="46" fill="#c0c0c0"/>
<rect x="195" y="647" width="1" height="57" fill="#c0c0c0"/>
<rect x="203" y="641" width="1" height="63" fill="#c0c0c0"/>
<rect x="211" y="646" width="1" height="58" fill="#c0c0c0"/>
<rect x="219" y="646" width="1" height="58" fill="#c0c0c0"/>
<rect x="227" y="643" width="1" height="61" fill="#c0c0c0"/>
<rect x="235" y="640" width="1" height="64" fill="#c0c0c0"/>
<rect x="243" y="638" width="1" height="66" fill="#c0c0c0"/>
<rect x="251" y="636" width="1" height="68" fill="#c0c0c0"/>
<rect x="259" y="635" width="1" height="69" fill="#c0c0c0"/>
<rect x="267" y="634" width="1" height="70" fill="#c0c0c0"/>
<rect x="275" y="631" width="1" height="73" fill="#c0c0c0"/>
<rect x="283" y="628" width="1" height="76" fill="#c0c0c0"/>
<rect x="291" y="624" width="1" height="80" fill="#c0c0c0"/>
<rect x="299" y="620" width="1" height="84" fill="#c0c0c0"/>
<rect x="307" y="620" width="1" height="84" fill="#c0c0c0"/>
<rect x="315" y="624" width="1" height="80" fill="#c0c0c0"/>
<rect x="323" y="628" width="1" height="76" fill="#c0c0c0"/>
<rect x="331" y="629" width="1" height="75" fill="#c0c0c0"/>
<rect x="339" y="625" width="1" height="79" fill="#c0c0c0"/>
<rect x="347" y="628" width="1" height="76" fill="#c0c0c0"/>
<rect x="355" y="624" width="1" height="80" fill="#c0c0c0"/>
<rect x="363" y="622" width="1" height="82" fill="#c0c0c0"/>
<rect x="371" y="625" width="1" height="79" fill="#c0c0c0"/>
<rect x="379" y="631" width="1" height="73" fill="#c0c0c0"/>
<rect x="387" y="636" width="1" height="68" fill="#c0c0c0"/>
<rect x="395" y="642" width="1" height="62" fill="#c0c0c0"/>
<rect x="403" y="651" width="1" height="53" fill="#c0c0c0"/>
<rect x="411" y="666" width="1" height="38" fill="#c0c0c0"/>
<rect x="419" y="670" width="1" height="34" fill="#c0c0c0"/>
<rect x="427" y="674" width="1" height="30" fill="#c0c0c0"/>
<rect x="435" y="667" width="1" height="37" fill="#c0c0c0"/>
<rect x="443" y="657" width="1" height="47" fill="#c0c0c0"/>
<rect x="451" y="645" width="1" height="59" fill="#c0c0c0"/>
<rect x="459" y="641" width="1" height="63" fill="#c0c0c0"/>
<rect x="467" y="647" width="1" height="57" fill="#c0c0c0"/>
<rect x="475" y="649" width="1" height="55" fill="#c0c0c0"/>
<rect x="483" y="652" width="1" height="52" fill="#c0c0c0"/>
<rect x="491" y="650" width="1" height="54" fill="#c0c0c0"/>
<rect x="499" y="646" width="1" height="58" fill="#c0c0c0"/>
<rect x="507" y="640" width="1" height="64" fill="#c0c0c0"/>
<rect x="515" y="644" width="1" height="60" fill="#c0c0c0"/>
<rect x="523" y="647" width="1" height="57" fill="#c0c0c0"/>
<rect x="531" y="639" width="1" height="65" fill="#c0c0c0"/>
<rect x="539" y="630" width="1" height="74" fill="#c0c0c0"/>
<rect x="547" y="623" width="1" height="81" fill="#c0c0c0"/>
<rect x="555" y="627" width="1" height="77" fill="#c0c0c0"/>
<rect x="563" y="626" width="1" height="78" fill="#c0c0c0"/>
<rect x="571" y="627" width="1" height="77" fill="#c0c0c0"/>
<rect x="579" y="632" width="1" height="72" fill="#c0c0c0"/>
<rect x="587" y="639" width="1" height="65" fill="#c0c0c0"/>
<rect x="595" y="648" width="1" height="56" fill="#c0c0c0"/>
<rect x="603" y="655" width="1" height="49" fill="#c0c0c0"/>
<rect x="611" y="650" width="1" height="54" fill="#c0c0c0"/>
<rect x="619" y="648" width="1" height="56" fill="#c0c0c0"/>
<rect x="627" y="644" width="1" height="60" fill="#c0c0c0"/>
<rect x="635" y="650" width="1" height="54" fill="#c0c0c0"/>
<rect x="643" y="656" width="1" height="48" fill="#c0c0c0"/>
<rect x="651" y="661" width="1" height="43" fill="#c0c0c0"/>
<rect x="659" y="660" width="1" height="44" fill="#c0c0c0"/>
<rect x="667" y="657" width="1" height="47" fill="#c0c0c0"/>
<rect x="675" y="652" width="1" height="52" fill="#c0c0c0"/>
<rect x="683" y="651" width="1" height="53" fill="#c0c0c0"/>
<rect x="691" y="652" width="1" height="52" fill="#c0c0c0"/>
<rect x="699" y="653" width="1" height="51" fill="#c0c0c0"/>
<rect x="707" y="648" width="1" height="56" fill="#c0c0c0"/>
<rect x="715" y="653" width="1" height="51" fill="#c0c0c0"/>
<rect x="723" y="652" width="1" height="52" fill="#c0c0c0"/>
<rect x="731" y="653" width="1" height="51" fill="#c0c0c0"/>
<rect x="739" y="655" width="1" height="49" fill="#c0c0c0"/>
<rect x="747" y="659" width="1" height="45" fill="#c0c0c0"/>
<rect x="755" y="664" width="1" height="40" fill="#c0c0c0"/>
<rect x="763" y="669" width="1" height="35" fill="#c0c0c0"/>
<rect x="771" y="672" width="1" height="32" fill="#c0c0c0"/>
<rect x="779" y="670" width="1" height="34" fill="#c0c0c0"/>
<rect x="787" y="668" width="1" height="36" fill="#c0c0c0"/>
<rect x="795" y="666" width="1" height="38" fill="#c0c0c0"/>
<rect x="803" y="659" width="1" height="45" fill="#c0c0c0"/>
<rect x="811" y="653" width="1" height="51" fill="#c0c0c0"/>
<rect x="819" y="651" width="1" height="53" fill="#c0c0c0"/>
<rect x="827" y="646" width="1" height="58" fill="#c0c0c0"/>
<rect x="835" y="642" width="1" height="62" fill="#c0c0c0"/>
<rect x="843" y="636" width="1" height="68" fill="#c0c0c0"/>
<rect x="851" y="634" width="1" height="70" fill="#c0c0c0"/>
<rect x="859" y="635" width="1" height="69" fill="#c0c0c0"/>
<rect x="867" y="628" width="1" height="76" fill="#c0c0c0"/>
<rect x="875" y="620" width="1" height="84" fill="#c0c0c0"/>
<rect x="883" y="613" width="1" height="91" fill="#c0c0c0"/>
<rect x="891" y="606" width="1" height="98" fill="#c0c0c0"/>
<rect x="899" y="597" width="1" height="107" fill="#c0c0c0"/>
<rect x="907" y="589" width="1" height="115" fill="#c0c0c0"/>
<rect x="915" y="596" width="1" height="108" fill="#c0c0c0"/>
<rect x="923" y="607" width="1" height="97" fill="#c0c0c0"/>
<rect x="931" y="615" width="1" height="89" fill="#c0c0c0"/>
<rect x="939" y="625" width="1" height="79" fill="#c0c0c0"/>
<rect x="947" y="632" width="1" height="72" fill="#c0c0c0"/>
<rect x="955" y="641" width="1" height="63" fill="#c0c0c0"/>
<rect x="963" y="652" width="1" height="52" fill="#c0c0c0"/>
<rect x="971" y="664" width="1" height="40" fill="#c0c0c0"/>
<rect x="979" y="674" width="1" height="30" fill="#c0c0c0"/>
<rect x="987" y="684" width="1" height="20" fill="#c0c0c0"/>
<rect x="995" y="687" width="1" height="17" fill="#c0c0c0"/>
<rect x="1003" y="686" width="1" height="18" fill="#c0c0c0"/>
<rect x="1011" y="681" width="1" height="23" fill="#c0c0c0"/>
<rect x="1019" y="682" width="1" height="22" fill="#c0c0c0"/>
<rect x="1027" y="683" width="1" height="21" fill="#c0c0c0"/>
<rect x="1035" y="687" width="1" height="17" fill="#c0c0c0"/>
<rect x="1043" y="689" width="1" height="15" fill="#c0c0c0"/>
<rect x="1051" y="686" width="1" height="18" fill="#c0c0c0"/>
<rect x="1059" y="687" width="1" height="17" fill="#c0c0c0"/>
<rect x="1067" y="693" width="1" height="11" fill="#c0c0c0"/>
<rect x="1075" y="700" width="1" height="4" fill="#c0c0c0"/>
<rect x="1091" y="703" width="1" height="14" fill="#c0c0c0"/>
<rect x="1099" y="703" width="1" height="27" fill="#c0c0c0"/>
<rect x="1107" y="703" width="1" height="33" fill="#c0c0c0"/>
<rect x="1115" y="703" width="1" height="34" fill="#c0c0c0"/>
<rect x="1123" y="703" width="1" height="34" fill="#c0c0c0"/>
<rect x="1131" y="703" width="1" height="35" fill="#c0c0c0"/>
<rect x="1139" y="703" width="1" height="38" fill="#c0c0c0"/>
<rect x="1147" y="703" width="1" height="36" fill="#c0c0c0"/>
<rect x="1155" y="703" width="1" height="31" fill="#c0c0c0"/>
<rect x="1163" y="703" width="1" height="27" fill="#c0c0c0"/>
<rect x="1171" y="703" width="1" height="16" fill="#c0c0c0"/>
<rect x="1179" y="703" width="1" height="14" fill="#c0c0c0"/>
<rect x="1187" y="703" width="1" height="20" fill="#c0c0c0"/>
<rect x="1195" y="703" width="1" height="25" fill="#c0c0c0"/>
<rect x="1203" y="703" width="1" height="30" fill="#c0c0c0"/>
<rect x="1211" y="703" width="1" height="34" fill="#c0c0c0"/>
<rect x="1219" y="703" width="1" height="33" fill="#c0c0c0"/>
<rect x="1227" y="703" width="1" height="31" fill="#c0c0c0"/>
<rect x="1235" y="703" width="1" height="28" fill="#c0c0c0"/>
<rect x="1243" y="703" width="1" height="25" fill="#c0c0c0"/>
<rect x="1251" y="703" width="1" height="19" fill="#c0c0c0"/>
<rect x="1259" y="703" width="1" height="14" fill="#c0c0c0"/>
<rect x="1267" y="701" width="1" height="3" fill="#c0c0c0"/>
<rect x="1275" y="692" width="1" height="12" fill="#c0c0c0"/>
<rect x="1283" y="685" width="1" height="19" fill="#c0c0c0"/>
<rect x="1291" y="686" width="1" height="18" fill="#c0c0c0"/>
<rect x="1299" y="686" width="1" height="18" fill="#c0c0c0"/>
<rect x="1307" y="687" width="1" height="17" fill="#c0c0c0"/>
<rect x="1315" y="685" width="1" height="19" fill="#c0c0c0"/>
<rect x="1323" y="683" width="1" height="21" fill="#c0c0c0"/>
<rect x="1331" y="678" width="1" height="26" fill="#c0c0c0"/>
<rect x="1339" y="674" width="1" height="30" fill="#c0c0c0"/>
<rect x="1347" y="682" width="1" height="22" fill="#c0c0c0"/>
<rect x="1355" y="690" width="1" height="14" fill="#c0c0c0"/>
<rect x="1363" y="688" width="1" height="16" fill="#c0c0c0"/>
<rect x="1371" y="688" width="1" height="16" fill="#c0c0c0"/>
<rect x="1379" y="687" width="1" height="17" fill="#c0c0c0"/>
<rect x="1387" y="687" width="1" height="17" fill="#c0c0c0"/>
<rect x="1395" y="679" width="1" height="25" fill="#c0c0c0"/>
<rect x="1403" y="670" width="1" height="34" fill="#c0c0c0"/>
<rect x="1411" y="657" width="1" height="47" fill="#c0c0c0"/>
<rect x="1419" y="644" width="1" height="60" fill="#c0c0c0"/>
<rect x="1427" y="642" width="1" height="62" fill="#c0c0c0"/>
<rect x="1435" y="643" width="1" height="61" fill="#c0c0c0"/>
<rect x="1443" y="639" width="1" height="65" fill="#c0c0c0"/>
<rect x="1451" y="637" width="1" height="67" fill="#c0c0c0"/>
<rect x="1459" y="633" width="1" height="71" fill="#c0c0c0"/>
<rect x="1467" y="627" width="1" height="77" fill="#c0c0c0"/>
<rect x="1475" y="628" width="1" height="76" fill="#c0c0c0"/>
</g>
<polyline points="-4.5,718.9 3.5,713.9 11.5,707.2 19.5,703.8 27.5,700.4 35.5,698.1 43.5,696.4 51.5,695.4 59.5,694.4 67.5,693.3 75.5,691.6 83.5,690.1 91.5,688.1 99.5,685.8 107.5,683.8 115.5,682.5 123.5,681.7 131.5,683.1 139.5,685.9 147.5,687.5 155.5,689.7 163.5,690.5 171.5,690.2 179.5,688.2 187.5,684.7 195.5,679.6 203.5,673.2 211.5,666.7 219.5,661.6 227.5,655.8 235.5,650.9 243.5,646.9 251.5,643.8 259.5,641.3 267.5,639.8 275.5,638.6 283.5,636.7 291.5,634.2 299.5,631.7 307.5,629.4 315.5,627.9 323.5,627.1 331.5,626.5 339.5,625.5 347.5,625.2 355.5,624.7 363.5,624.6 371.5,625.1 379.5,626.3 387.5,627.6 395.5,629.1 403.5,631.4 411.5,636.0 419.5,640.7 427.5,646.2 435.5,651.2 443.5,654.7 451.5,656.3 459.5,656.9 467.5,657.5 475.5,657.2 483.5,655.8 491.5,653.5 499.5,650.4 507.5,647.4 515.5,645.9 523.5,646.2 531.5,646.0 539.5,644.0 547.5,641.1 555.5,638.3 563.5,635.6 571.5,633.5 579.5,632.7 587.5,632.1 595.5,632.2 603.5,634.0 611.5,636.3 619.5,639.1 627.5,641.0 635.5,643.6 643.5,646.8 651.5,650.0 659.5,652.3 667.5,653.3 675.5,653.0 683.5,653.1 691.5,653.6 699.5,654.6 707.5,654.4 715.5,654.1 723.5,653.1 731.5,652.3 739.5,652.1 747.5,652.8 755.5,654.3 763.5,656.2 771.5,658.3 779.5,660.7 787.5,662.3 795.5,663.9 803.5,664.5 811.5,664.2 819.5,663.4 827.5,661.4 835.5,658.4 843.5,654.4 851.5,650.4 859.5,646.8 867.5,642.6 875.5,638.3 883.5,633.8 891.5,628.8 899.5,623.4 907.5,617.5 915.5,613.0 923.5,610.0 931.5,607.8 939.5,607.4 947.5,608.8 955.5,611.8 963.5,617.0 971.5,624.4 979.5,633.8 987.5,643.6 995.5,652.5 1003.5,660.4 1011.5,666.7 1019.5,672.3 1027.5,677.0 1035.5,680.9 1043.5,683.7 1051.5,685.0 1059.5,685.3 1067.5,686.0 1075.5,687.6 1083.5,690.1 1091.5,694.0 1099.5,699.2 1107.5,704.7 1115.5,710.0 1123.5,715.6 1131.5,721.3 1139.5,726.6 1147.5,731.0 1155.5,734.3 1163.5,735.8 1171.5,734.5 1179.5,732.4 1187.5,730.9 1195.5,729.9 1203.5,729.3 1211.5,728.8 1219.5,728.5 1227.5,728.5 1235.5,728.6 1243.5,729.6 1251.5,730.2 1259.5,729.5 1267.5,726.5 1275.5,722.0 1283.5,716.2 1291.5,710.7 1299.5,705.3 1307.5,700.4 1315.5,695.7 1323.5,691.3 1331.5,687.0 1339.5,684.0 1347.5,682.9 1355.5,683.4 1363.5,683.7 1371.5,683.9 1379.5,683.9 1387.5,684.1 1395.5,683.7 1403.5,682.8 1411.5,680.9 1419.5,676.6 1427.5,671.3 1435.5,666.2 1443.5,660.7 1451.5,655.2 1459.5,649.1 1467.5,643.3 1475.5,638.6" fill="none" stroke="#ff0000" stroke-width="1" stroke-linejoin="bevel" stroke-dasharray="3 3" shape-rendering="crispEdges"/>
<line x1="2" y1="787.5" x2="1682" y2="787.5" stroke="#c0c0c0" stroke-width="1" stroke-dasharray="3 3" shape-rendering="crispEdges"/>
<line x1="2" y1="838.5" x2="1682" y2="838.5" stroke="#c0c0c0" stroke-width="1" stroke-dasharray="3 3" shape-rendering="crispEdges"/>
<line x1="2" y1="899.5" x2="1682" y2="899.5" stroke="#c0c0c0" stroke-width="1" stroke-dasharray="3 3" shape-rendering="crispEdges"/>
<polyline points="-4.5,834.6 3.5,840.6 11.5,831.2 19.5,843.3 27.5,840.2 35.5,841.2 43.5,838.6 51.5,837.2 59.5,819.4 67.5,826.5 75.5,830.8 83.5,829.5 91.5,834.2 99.5,832.2 107.5,837.9 115.5,845.3 123.5,841.2 131.5,845.3 139.5,846.6 147.5,822.1 155.5,840.2 163.5,825.5 171.5,823.1 179.5,821.1 187.5,823.1 195.5,815.4 203.5,819.8 211.5,832.2 219.5,827.2 227.5,823.1 235.5,823.1 243.5,820.4 251.5,821.5 259.5,821.5 267.5,818.1 275.5,816.4 283.5,813.4 291.5,810.4 299.5,808.4 307.5,813.7 315.5,823.5 323.5,820.4 331.5,819.1 339.5,809.4 347.5,820.4 355.5,811.1 363.5,812.4 371.5,818.1 379.5,828.5 387.5,827.2 395.5,827.5 403.5,838.6 411.5,849.6 419.5,836.2 427.5,833.9 435.5,820.1 443.5,814.4 451.5,808.4 459.5,818.8 467.5,833.2 475.5,828.5 483.5,834.2 491.5,823.1 499.5,820.1 507.5,818.1 515.5,832.2 523.5,828.2 531.5,817.4 539.5,814.1 547.5,813.1 555.5,827.2 563.5,822.5 571.5,823.5 579.5,830.2 587.5,831.5 595.5,836.2 603.5,836.2 611.5,820.4 619.5,823.5 627.5,820.4 635.5,834.2 643.5,835.5 651.5,833.2 659.5,826.1 667.5,824.1 675.5,817.4 683.5,825.5 691.5,824.5 699.5,826.5 707.5,818.4 715.5,830.5 723.5,823.1 731.5,827.5 739.5,828.8 747.5,831.5 755.5,834.5 763.5,836.5 771.5,832.2 779.5,824.1 787.5,822.1 795.5,821.1 803.5,812.7 811.5,810.4 819.5,814.1 827.5,809.4 835.5,807.0 843.5,802.3 851.5,809.7 859.5,814.1 867.5,802.0 875.5,798.3 883.5,797.3 891.5,793.3 899.5,789.2 907.5,786.9 915.5,818.4 923.5,829.5 931.5,825.5 939.5,832.2 947.5,829.5 955.5,834.5 963.5,839.6 971.5,846.6 979.5,845.3 987.5,849.3 995.5,838.9 1003.5,831.5 1011.5,824.5 1019.5,834.5 1027.5,833.5 1035.5,838.2 1043.5,838.2 1051.5,827.5 1059.5,836.9 1067.5,843.6 1075.5,849.3 1083.5,844.6 1091.5,859.7 1099.5,864.4 1107.5,855.7 1115.5,849.6 1123.5,848.3 1131.5,850.0 1139.5,853.3 1147.5,845.6 1155.5,839.2 1163.5,839.2 1171.5,827.5 1179.5,839.2 1187.5,850.6 1195.5,852.3 1203.5,854.3 1211.5,855.7 1219.5,847.6 1227.5,846.3 1235.5,843.6 1243.5,842.3 1251.5,832.2 1259.5,835.9 1267.5,812.7 1275.5,821.5 1283.5,823.1 1291.5,838.2 1299.5,833.2 1307.5,834.2 1315.5,830.5 1323.5,829.2 1331.5,822.5 1339.5,823.1 1347.5,846.6 1355.5,844.6 1363.5,832.2 1371.5,834.2 1379.5,831.5 1387.5,834.2 1395.5,820.4 1403.5,815.7 1411.5,807.7 1419.5,807.7 1427.5,819.1 1435.5,823.5 1443.5,818.1 1451.5,817.1 1459.5,812.1 1467.5,807.4 1475.5,820.4" fill="none" stroke="#1e90ff" stroke-width="1" stroke-linejoin="bevel" shape-rendering="crispEdges"/>
<g shape-rendering="crispEdges" fill="#000">
<rect x="0" y="24" width="1683" height="1"/>
<rect x="1682" y="24" width="1" height="902"/>
<rect x="0" y="577" width="1683" height="1"/>
<rect x="0" y="578" width="1682" height="1" fill="#fff"/>
<rect x="0" y="579" width="1683" height="1"/>
<rect x="0" y="749" width="1683" height="1"/>
<rect x="0" y="750" width="1682" height="1" fill="#fff"/>
<rect x="0" y="751" width="1683" height="1"/>
<rect x="0" y="925" width="1683" height="1"/>
<rect x="1683" y="145" width="2" height="1"/>
<rect x="1683" y="178" width="2" height="1"/>
<rect x="1683" y="211" width="2" height="1"/>
<rect x="1683" y="244" width="2" height="1"/>
<rect x="1683" y="277" width="2" height="1"/>
<rect x="1683" y="310" width="2" height="1"/>
<rect x="1683" y="343" width="2" height="1"/>
<rect x="1683" y="376" width="2" height="1"/>
<rect x="1683" y="409" width="2" height="1"/>
<rect x="1683" y="442" width="2" height="1"/>
<rect x="1683" y="475" width="2" height="1"/>
<rect x="1683" y="508" width="2" height="1"/>
<rect x="1683" y="541" width="2" height="1"/>
<rect x="1683" y="574" width="2" height="1"/>
<rect x="1683" y="46" width="2" height="1"/>
<rect x="1683" y="79" width="2" height="1"/>
<rect x="1683" y="112" width="2" height="1"/>
<rect x="1683" y="581" width="2" height="1"/>
<rect x="1683" y="703" width="2" height="1"/>
<rect x="1683" y="748" width="2" height="1"/>
<rect x="1683" y="753" width="2" height="1"/>
<rect x="1683" y="787" width="2" height="1"/>
<rect x="1683" y="838" width="2" height="1"/>
<rect x="1683" y="899" width="2" height="1"/>
<rect x="1683" y="924" width="2" height="1"/>
<rect x="59" y="926" width="1" height="3"/>
<rect x="123" y="926" width="1" height="3"/>
<rect x="187" y="926" width="1" height="3"/>
<rect x="251" y="926" width="1" height="3"/>
<rect x="315" y="926" width="1" height="3"/>
<rect x="379" y="926" width="1" height="3"/>
<rect x="443" y="926" width="1" height="3"/>
<rect x="507" y="926" width="1" height="3"/>
<rect x="571" y="926" width="1" height="3"/>
<rect x="635" y="926" width="1" height="3"/>
<rect x="699" y="926" width="1" height="3"/>
<rect x="763" y="926" width="1" height="3"/>
<rect x="827" y="926" width="1" height="3"/>
<rect x="891" y="926" width="1" height="3"/>
<rect x="955" y="926" width="1" height="3"/>
<rect x="1019" y="926" width="1" height="3"/>
<rect x="1083" y="926" width="1" height="3"/>
<rect x="1147" y="926" width="1" height="3"/>
<rect x="1211" y="926" width="1" height="3"/>
<rect x="1275" y="926" width="1" height="3"/>
<rect x="1339" y="926" width="1" height="3"/>
<rect x="1403" y="926" width="1" height="3"/>
<rect x="1467" y="926" width="1" height="3"/>
</g>
<g font-family="Liberation Sans, sans-serif" font-size="9.5px" fill="#000" stroke="#000" stroke-width="0.18">
<text x="1688" y="148.6" font-size="9.3px">1.39815</text>
<text x="1688" y="181.6" font-size="9.3px">1.38940</text>
<text x="1688" y="214.6" font-size="9.3px">1.38040</text>
<text x="1688" y="247.6" font-size="9.3px">1.37165</text>
<text x="1688" y="280.6" font-size="9.3px">1.36265</text>
<text x="1688" y="313.6" font-size="9.3px">1.35365</text>
<text x="1688" y="346.6" font-size="9.3px">1.34490</text>
<text x="1688" y="379.6" font-size="9.3px">1.33590</text>
<text x="1688" y="412.6" font-size="9.3px">1.32715</text>
<text x="1688" y="445.6" font-size="9.3px">1.31815</text>
<text x="1688" y="478.6" font-size="9.3px">1.30915</text>
<text x="1688" y="511.6" font-size="9.3px">1.30040</text>
<text x="1688" y="544.6" font-size="9.3px">1.29140</text>
<text x="1688" y="577.6" font-size="9.3px">1.28265</text>
<text x="1686" font-size="9.3px" y="590">0.01209</text>
<text x="1686" font-size="9.3px" y="707">0.00</text>
<text x="1686" y="746" textLength="41" lengthAdjust="spacingAndGlyphs">-0.004446</text>
<text x="1686" font-size="9.3px" y="762">100</text>
<text x="1686" font-size="9.3px" y="790.5">80</text>
<text x="1686" font-size="9.3px" y="841.5">50</text>
<text x="1686" font-size="9.3px" y="903">15</text>
<text x="1686" font-size="9.3px" y="922">0</text>
<text x="-6" y="938">12 Oct 2020</text>
<text x="58" y="938">21 Oct 2020</text>
<text x="122" y="938">30 Oct 2020</text>
<text x="186" y="938">9 Nov 2020</text>
<text x="250" y="938">18 Nov 2020</text>
<text x="314" y="938">27 Nov 2020</text>
<text x="378" y="938">7 Dec 2020</text>
<text x="442" y="938">16 Dec 2020</text>
<text x="506" y="938">27 Dec 2020</text>
<text x="570" y="938">6 Jan 2021</text>
<text x="634" y="938">15 Jan 2021</text>
<text x="698" y="938">25 Jan 2021</text>
<text x="762" y="938">3 Feb 2021</text>
<text x="826" y="938">12 Feb 2021</text>
<text x="890" y="938">22 Feb 2021</text>
<text x="954" y="938">3 Mar 2021</text>
<text x="1018" y="938">12 Mar 2021</text>
<text x="1082" y="938">22 Mar 2021</text>
<text x="1146" y="938">31 Mar 2021</text>
<text x="1210" y="938">11 Apr 2021</text>
<text x="1274" y="938">20 Apr 2021</text>
<text x="1338" y="938">29 Apr 2021</text>
<text x="1402" y="938">9 May 2021</text>
<text x="1466" y="938">18 May 2021</text>
<text x="-0.3" y="591.7" font-size="9.3px">MACD(12,26,9) 0.007410 0.006438</text>
<text x="-0.7" y="764" font-size="9.2px">RSI(14) 60.0219</text>
<text x="10.5" y="36" font-size="9.4px">GBPUSD-,Daily&#160;&#160;1.41866 1.41996 1.40993 1.41133</text>
</g>
<path d="M-2.5 35 L1.5 30.8 L5.5 35Z" fill="#000"/>
<text x="1688.5" y="50" font-family="Liberation Sans, sans-serif" font-size="9.3px" fill="#000">1.42465</text>
<rect x="1684" y="28" width="41" height="11" fill="#ff4500" shape-rendering="crispEdges"/>
<text x="1688.5" y="37" font-family="Liberation Sans, sans-serif" font-size="9.3px" fill="#fff">1.42808</text>
<rect x="1684" y="45" width="41" height="11" fill="#ff0000" shape-rendering="crispEdges"/>
<text x="1688.5" y="54" font-family="Liberation Sans, sans-serif" font-size="9.3px" fill="#fff">1.42350</text>
<rect x="1684" y="72" width="41" height="11" fill="#32cd32" shape-rendering="crispEdges"/>
<text x="1688.5" y="81" font-family="Liberation Sans, sans-serif" font-size="9.3px" fill="#fff">1.41623</text>
<rect x="1684" y="92" width="41" height="11" fill="#000000" shape-rendering="crispEdges"/>
<text x="1688.5" y="101" font-family="Liberation Sans, sans-serif" font-size="9.3px" fill="#fff">1.41133</text>
<rect x="1684" y="105" width="41" height="11" fill="#0000ff" shape-rendering="crispEdges"/>
<text x="1688.5" y="114" font-family="Liberation Sans, sans-serif" font-size="9.3px" fill="#fff">1.40735</text>
<rect x="1684" y="126" width="41" height="11" fill="#0000ff" shape-rendering="crispEdges"/>
<text x="1688.5" y="135" font-family="Liberation Sans, sans-serif" font-size="9.3px" fill="#fff">1.40170</text>
<rect x="1677.5" y="130.5" width="4" height="4" fill="#fff" stroke="#0000ff" stroke-width="1"/>
<path d="M1490 26 L1501 26 L1495.5 30.5Z" fill="#b0b0b0"/>
<rect x="836.5" y="42.5" width="61" height="18" fill="#fff" stroke="#ff0000" stroke-width="1"/>
<text x="867.0" y="58.2" text-anchor="middle" font-family="Liberation Sans, sans-serif" font-size="16.2px" fill="#ff0000">1.42350</text>
<rect x="1204.5" y="127.5" width="61" height="18" fill="#fff" stroke="#ff0000" stroke-width="1"/>
<text x="1235.0" y="143.2" text-anchor="middle" font-family="Liberation Sans, sans-serif" font-size="16.2px" fill="#ff0000">1.40071</text>
<rect x="1396.5" y="48.5" width="61" height="18" fill="#fff" stroke="#ff0000" stroke-width="1"/>
<text x="1427.0" y="64.2" text-anchor="middle" font-family="Liberation Sans, sans-serif" font-size="16.2px" fill="#ff0000">1.42189</text>
<rect x="1348.5" y="69.5" width="61" height="18" fill="#fff" stroke="#ff0000" stroke-width="1"/>
<text x="1379.0" y="85.2" text-anchor="middle" font-family="Liberation Sans, sans-serif" font-size="16.2px" fill="#ff0000">1.41623</text>
<rect x="1198.5" y="66.5" width="73" height="24" fill="#fff" stroke="#ff0000" stroke-width="1"/>
<text x="1235.0" y="87" text-anchor="middle" font-family="Liberation Sans, sans-serif" font-size="22.5px" textLength="70.5" lengthAdjust="spacingAndGlyphs" stroke="#ff0000" stroke-width="0.35" fill="#ff0000">1.41623</text>
<g shape-rendering="crispEdges" fill="#ff0000">
<rect x="1266" y="136" width="10" height="1"/>
<rect x="1461" y="57" width="7" height="1"/>
</g>
<rect x="1458.5" y="55.5" width="2" height="2.5" fill="#fff" stroke="#ff0000"/>
<line x1="1223.0" y1="250.5" x2="1279.0" y2="146.8" stroke="#ff0000" stroke-width="3.2" stroke-linecap="butt"/>
<path d="M1283.0 139.3 L1282.2 150.8 L1273.9 146.3Z" fill="#ff0000"/>
<line x1="1283.0" y1="139.3" x2="1353.0" y2="200.1" stroke="#ff0000" stroke-width="3.2" stroke-linecap="butt"/>
<path d="M1359.4 205.7 L1348.4 202.4 L1354.6 195.3Z" fill="#ff0000"/>
<line x1="1361.0" y1="207.5" x2="1472.3" y2="58.8" stroke="#ff0000" stroke-width="3.2" stroke-linecap="butt"/>
<path d="M1477.4 52.0 L1474.9 63.2 L1467.3 57.6Z" fill="#ff0000"/>
<line x1="1477.4" y1="52.0" x2="1498.6" y2="105.2" stroke="#ff0000" stroke-width="3.2" stroke-linecap="butt"/>
<path d="M1502.3 114.5 L1493.2 105.2 L1502.5 101.5Z" fill="#ff0000"/>
<line x1="1230.0" y1="724.5" x2="1471.3" y2="635.4" stroke="#ff0000" stroke-width="3.2" stroke-linecap="butt"/>
<path d="M1480.0 632.2 L1471.0 640.3 L1467.8 631.9Z" fill="#ff0000"/>
<line x1="1232.0" y1="861.5" x2="1448.2" y2="809.5" stroke="#ff0000" stroke-width="3.2" stroke-linecap="butt"/>
<path d="M1456.5 807.5 L1447.4 814.5 L1445.2 805.4Z" fill="#ff0000"/>
<line x1="1470.0" y1="807.0" x2="1498.8" y2="825.0" stroke="#ff0000" stroke-width="3.2" stroke-linecap="butt"/>
<path d="M1506.0 829.5 L1494.6 827.9 L1499.6 819.9Z" fill="#ff0000"/>
<rect x="1435" y="78" width="101" height="6" fill="#00ff00" shape-rendering="crispEdges"/>
<text x="1509" y="108.1" font-family="Liberation Serif, Noto Serif CJK SC, serif" font-size="20px" fill="#00ff00" letter-spacing="1.8">多空转折点</text>
</svg>
<svg width="1729" height="22" viewBox="0 0 1729 22">
<rect x="0" y="0" width="1729" height="19" fill="#f0f0f0"/>
<rect x="0" y="19" width="1729" height="1" fill="#e4e4e4"/>
<rect x="0" y="20" width="1729" height="1" fill="#b2b2b2"/>
<rect x="0" y="21" width="1729" height="1" fill="#6c6c6c"/>
<rect x="-3" y="1.9" width="8" height="12.3" rx="1" fill="#fff" stroke="#3b7bd0" stroke-width="1.3"/>
<path d="M-2 4.5H4.3M-2 6.7H4.3M-2 8.9H4.3M-2 11.100H4.3" stroke="#a9c6ee" stroke-width="0.8"/>
<path d="M8.7 13.7 L10.4 15.4 L8.7 17.100 L7 15.4Z" fill="#fff" stroke="#000" stroke-width="0.9"/>
<rect x="18.7" y="1" width="11.8" height="12.3" fill="#f6f4ee" stroke="#b5a88e" stroke-width="0.9"/>
<path d="M21 2.500V9M27.500 2V6M20 4.500H22M26.500 3.500H28.500" stroke="#7a8390" stroke-width="1"/>
<circle cx="26.400" cy="9.300" r="4.700" fill="#c9dcf3" fill-opacity="0.85" stroke="#8db3e6" stroke-width="1.300"/>
<ellipse cx="26" cy="8.800" rx="1.600" ry="2.800" fill="#8fa6c2" fill-opacity="0.7"/>
<path d="M30.300 13.200 L34.600 16.600" stroke="#d39b16" stroke-width="2.500" stroke-linecap="round"/>
<rect x="43" y="1" width="1" height="17" fill="#a0a0a0"/>
<path d="M53.600 1.200H61.500L64.500 4.200V13H53.600Z" fill="#fbfbfb" stroke="#8c8c8c" stroke-width="0.9"/>
<path d="M61.500 1.200V4.200H64.500" fill="none" stroke="#8c8c8c" stroke-width="0.8"/>
<path d="M55.500 3.300H58M55.500 6.500H60M55.500 8.800H59" stroke="#8c8c8c" stroke-width="1.100"/>
<path d="M60.800 6.300H64.900V9.800H69V13.900H64.900V17.600H60.800V13.900H57V9.800H60.800Z" fill="#1fc71f" stroke="#10930f" stroke-width="0.8"/>
<path d="M61.800 7.300H63.800V10.800H67.800" fill="none" stroke="#8cf08c" stroke-width="0.8"/>
<text x="71.500" y="10.900" font-family="Liberation Sans, Noto Sans CJK SC, sans-serif" font-size="12.1px" fill="#000">新订单</text>
<path d="M119.900 9.400 L127.200 1 L135.500 7.800 L128.300 15.800Z" fill="#f2c23c" stroke="#b98a14" stroke-width="0.9"/>
<path d="M119.900 9.400 L128.300 15.800 L135.500 7.800 L135.600 9.300 L128.400 17.200 L119.800 10.800Z" fill="#b57e12"/>
<path d="M122.500 8.600 L127.500 3 L129.500 4.600 L124.500 10.200Z" fill="#fbe28a" fill-opacity="0.8"/>
<rect x="150.500" y="0.800" width="10.200" height="8.500" fill="#5b9be6" stroke="#2f6cc4" stroke-width="0.9"/>
<rect x="152" y="2.800" width="7.200" height="5" fill="#cfe3fb"/>
<path d="M153 4.500H158M155.500 3V7.500" stroke="#5b9be6" stroke-width="0.9"/>
<path d="M150.800 15.400 H161.800 a2.600 2.600 0 0 0 0.300 -5.200 a2.600 2.600 0 0 0 -3.900 -1.200 a3.400 3.400 0 0 0 -6 0.900 a2.800 2.800 0 0 0 -1.400 5.500Z" fill="#eef3fb" stroke="#6b8cc0" stroke-width="1"/>
<circle cx="184" cy="7.800" r="7.300" fill="none" stroke="#b3cbe8" stroke-width="1.300"/>
<circle cx="184" cy="7.800" r="4.500" fill="none" stroke="#7ea7dd" stroke-width="1.300"/>
<path d="M184.300 8 V15.300 C188 15.300 190.800 12.500 191.200 9.500" stroke="#35b23c" stroke-width="1.800" fill="none" stroke-linecap="round"/>
<circle cx="184" cy="7.500" r="1.900" fill="#2b5fc0"/>
<path d="M203.800 6.800 L218.300 6.800 L214 13 L210 15.300 L207.500 12.500Z" fill="#f4cc4c" stroke="#c8981c" stroke-width="0.8"/>
<ellipse cx="211" cy="4.600" rx="8" ry="3.300" fill="#6faae6" stroke="#4c84c8" stroke-width="0.8"/>
<ellipse cx="211" cy="2.600" rx="3.800" ry="2.800" fill="#8fc0f0" stroke="#4c84c8" stroke-width="0.7"/>
<circle cx="215.700" cy="11.700" r="4.200" fill="#dc2418" stroke="#a8120a" stroke-width="0.8"/>
<rect x="214" y="10" width="3.400" height="3.400" fill="#fff"/>
<text x="224" y="10.900" font-family="Liberation Sans, Noto Sans CJK SC, sans-serif" font-size="11.800px" fill="#000">自动交易</text>
<rect x="280" y="1" width="1" height="17" fill="#c8c8c8"/>
<line x1="283.5" y1="0" x2="283.5" y2="17" stroke="#b4b4b4" stroke-width="4" stroke-dasharray="1 1" transform="translate(1.5 0)"/>
<path d="M297.6 3V16M295 13.7H308.5" stroke="#505050" stroke-width="1.2" fill="none"/>
<path d="M296 4.6L297.6 2.4L299.2 4.6M307 12.2L309 13.7L307 15.2" stroke="#505050" stroke-width="1" fill="none"/>
<path d="M304 4.400V11M304 4.900H306M301.800 10.500H304" stroke="#1e9a1e" stroke-width="1.300" fill="none"/>
<rect x="317" y="0" width="25" height="18" fill="#f8f8f8"/>
<rect x="317" y="0" width="1" height="18" fill="#a8a8a8"/>
<path d="M325.6 3V16M323 13.7H336.5" stroke="#505050" stroke-width="1.2" fill="none"/>
<path d="M324 4.6L325.6 2.4L327.2 4.6M335 12.2L337 13.7L335 15.2" stroke="#505050" stroke-width="1" fill="none"/>
<path d="M331.400 0V11.500" stroke="#1a7a1a" stroke-width="1"/>
<rect x="329.300" y="2.700" width="4.300" height="7.200" fill="#2fc42f" stroke="#17851a" stroke-width="0.800"/>
<path d="M353.6 3V16M351 13.7H364.5" stroke="#505050" stroke-width="1.2" fill="none"/>
<path d="M352 4.6L353.6 2.4L355.2 4.6M363 12.2L365 13.7L363 15.2" stroke="#505050" stroke-width="1" fill="none"/>
<path d="M352 11 C354 9 355.500 5 357.500 5 C360 5 361.500 8 364 9.300" stroke="#1e9a1e" stroke-width="1.200" fill="none"/>
<rect x="374" y="1" width="1" height="17" fill="#a0a0a0"/>
<path d="M393.0 10.200 L397.8 14.500" stroke="#b98a14" stroke-width="3.200" stroke-linecap="round"/>
<path d="M393.0 10.200 L397.8 14.500" stroke="#f0c84a" stroke-width="1.800" stroke-linecap="round"/>
<circle cx="388.8" cy="6" r="5.200" fill="#d6e8fb" stroke="#3f80d4" stroke-width="1.500"/>
<path d="M385.8 6H391.8" stroke="#2f6cc8" stroke-width="1.600"/>
<path d="M388.8 3V9" stroke="#2f6cc8" stroke-width="1.600"/>
<path d="M421.0 10.200 L425.8 14.500" stroke="#b98a14" stroke-width="3.200" stroke-linecap="round"/>
<path d="M421.0 10.200 L425.8 14.500" stroke="#f0c84a" stroke-width="1.800" stroke-linecap="round"/>
<circle cx="416.8" cy="6" r="5.200" fill="#d6e8fb" stroke="#3f80d4" stroke-width="1.500"/>
<path d="M413.8 6H419.8" stroke="#2f6cc8" stroke-width="1.600"/>
<rect x="439.3" y="-0.5" width="7.300" height="7.500" fill="#3aa23a"/>
<rect x="440.3" y="2.7" width="5.300" height="3.300" fill="#eef4ff"/>
<rect x="447.6" y="-0.5" width="7.300" height="7.500" fill="#2f66d0"/>
<rect x="448.6" y="2.7" width="5.300" height="3.300" fill="#eef4ff"/>
<rect x="439.3" y="8" width="7.300" height="7.500" fill="#2f66d0"/>
<rect x="440.3" y="11.2" width="5.300" height="3.300" fill="#eef4ff"/>
<rect x="447.6" y="8" width="7.300" height="7.500" fill="#3aa23a"/>
<rect x="448.6" y="11.2" width="5.300" height="3.300" fill="#eef4ff"/>
<rect x="464" y="1" width="1" height="17" fill="#a0a0a0"/>
<rect x="469" y="0" width="24" height="18" fill="#f8f8f8"/>
<rect x="469" y="0" width="1" height="18" fill="#a8a8a8"/>
<path d="M478.1 3V16M475.5 13.7H489.0" stroke="#505050" stroke-width="1.2" fill="none"/>
<path d="M476.5 4.6L478.1 2.4L479.7 4.6M487.5 12.2L489.5 13.7L487.5 15.2" stroke="#505050" stroke-width="1" fill="none"/>
<path d="M483 3.200 L488.500 6.700 L483 10.200Z" fill="#2ab02a"/>
<rect x="497" y="0" width="25" height="18" fill="#f8f8f8"/>
<rect x="497" y="0" width="1" height="18" fill="#a8a8a8"/>
<path d="M505.8 3V16M503.2 13.7H516.7" stroke="#505050" stroke-width="1.2" fill="none"/>
<path d="M504.2 4.6L505.8 2.4L507.4 4.6M515.2 12.2L517.2 13.7L515.2 15.2" stroke="#505050" stroke-width="1" fill="none"/>
<path d="M511.300 2V12.500" stroke="#2a6aa8" stroke-width="1.200"/>
<path d="M517.500 7.500H513M515 5.500L512.800 7.500L515 9.500Z" stroke="#d84a10" stroke-width="1.100" fill="#d84a10"/>
<rect x="526" y="1" width="1" height="17" fill="#a0a0a0"/>
<path d="M538.500 1.500H545L548.500 5V13.500H538.500Z" fill="#fbfbfb" stroke="#8a8a8a"/>
<path d="M541 4V10M541 4H543" stroke="#606060" stroke-width="1"/>
<path d="M545 7.500H548V11H551.500V14H548V17.500H545V14H541.500V11H545Z" fill="#22c322" stroke="#0e8a0e" stroke-width="0.8"/>
<path d="M558.5 7 L563.5 7 L561 10Z" fill="#000"/>
<circle cx="582" cy="8.500" r="7.300" fill="#f4f8ff" stroke="#2a62c8" stroke-width="2.200"/>
<path d="M582 4.500V8.500H585.500" stroke="#404040" stroke-width="1.2" fill="none"/>
<path d="M597.5 7 L602.5 7 L600 10Z" fill="#000"/>
<rect x="613.500" y="1.500" width="16" height="13" fill="#fafafa" stroke="#3f6fb8"/>
<rect x="613.500" y="1.500" width="16" height="2.500" fill="#5b8fd8"/>
<path d="M615.500 8 L619 7 L622 8 L627.500 5.500" stroke="#c83020" stroke-width="1.2" fill="none"/>
<path d="M615.500 12 L619 10.500 L622 12 L627.500 10.500" stroke="#2a9a2a" stroke-width="1.2" fill="none"/>
<path d="M636.5 7 L641.5 7 L639 10Z" fill="#000"/>
<rect x="647" y="0" width="1" height="18" fill="#c0c0c0"/>
<line x1="651.5" y1="0" x2="651.5" y2="17" stroke="#b4b4b4" stroke-width="4" stroke-dasharray="1 1" transform="translate(1.5 0)"/>
<rect x="657" y="0" width="25" height="18" fill="#f8f8f8"/>
<rect x="657" y="0" width="1" height="18" fill="#a8a8a8"/>
<path d="M665 2.500 L665 14 L667.800 11.500 L670 16 L671.800 15.200 L669.700 10.800 L673.500 10.500Z" fill="#404040"/>
<path d="M697.500 2V15M690 8.500H705" stroke="#404040" stroke-width="1"/>
<rect x="696" y="7" width="3" height="3" fill="#f0f0f0"/>
<rect x="714" y="1" width="1" height="17" fill="#a0a0a0"/>
<path d="M731.500 2.500V14.500" stroke="#404040" stroke-width="1.200"/>
<path d="M754.500 8.500H767" stroke="#404040" stroke-width="1.200"/>
<path d="M782 14.500 L794.500 3.500" stroke="#404040" stroke-width="1.200"/>
<path d="M808 12.500 L820 3.500 M809 15.500 L821 6.500 M811 9V15M814.500 6.500V13M818 4V10.500" stroke="#404040" stroke-width="1"/>
<text x="819.500" y="17.500" font-family="Liberation Sans, sans-serif" font-size="6.500px" font-weight="bold" fill="#202020">E</text>
<line x1="837" y1="2.5" x2="851" y2="2.5" stroke="#404040" stroke-width="1" stroke-dasharray="1 1"/>
<line x1="837" y1="5.5" x2="851" y2="5.5" stroke="#404040" stroke-width="1" stroke-dasharray="1 1"/>
<line x1="837" y1="8.5" x2="851" y2="8.5" stroke="#404040" stroke-width="1" stroke-dasharray="1 1"/>
<line x1="837" y1="11.5" x2="851" y2="11.5" stroke="#404040" stroke-width="1" stroke-dasharray="1 1"/>
<text x="847" y="17.500" font-family="Liberation Sans, sans-serif" font-size="6.500px" font-weight="bold" fill="#202020">F</text>
<text x="867" y="13.500" font-family="Liberation Sans, sans-serif" font-size="12.500px" fill="#505050">A</text>
<rect x="894.500" y="2.500" width="11" height="12" fill="none" stroke="#606060" stroke-dasharray="1 1"/>
<text x="896.200" y="13" font-family="Liberation Sans, sans-serif" font-size="10.500px" font-weight="bold" fill="#505050">T</text>
<path d="M922 5.500 L925 2.500 L928 5.500 L925 8.500Z M928 10.500 L931 7.500 L934 10.500 L931 13.500Z" fill="#404040"/>
<path d="M924 9.500 L927 12.500" stroke="#404040" stroke-width="1.200"/>
<path d="M942.0 7 L947.0 7 L944.5 10Z" fill="#000"/>
<rect x="953" y="0" width="1" height="18" fill="#c0c0c0"/>
<line x1="957.5" y1="0" x2="957.5" y2="17" stroke="#b4b4b4" stroke-width="4" stroke-dasharray="1 1" transform="translate(1.5 0)"/>
<rect x="1131" y="0" width="25" height="18" fill="#f8f8f8"/>
<rect x="1131" y="0" width="1" height="18" fill="#a8a8a8"/>
<text x="968.5" y="12" font-family="Liberation Sans, sans-serif" font-size="9.500px" fill="#404040">M1</text>
<text x="996" y="12" font-family="Liberation Sans, sans-serif" font-size="9.500px" fill="#404040">M5</text>
<text x="1022.5" y="12" font-family="Liberation Sans, sans-serif" font-size="9.500px" fill="#404040">M15</text>
<text x="1050" y="12" font-family="Liberation Sans, sans-serif" font-size="9.500px" fill="#404040">M30</text>
<text x="1081.5" y="12" font-family="Liberation Sans, sans-serif" font-size="9.500px" fill="#404040">H1</text>
<text x="1108.5" y="12" font-family="Liberation Sans, sans-serif" font-size="9.500px" fill="#404040">H4</text>
<text x="1138" y="12" font-family="Liberation Sans, sans-serif" font-size="9.500px" fill="#404040">D1</text>
<text x="1164.5" y="12" font-family="Liberation Sans, sans-serif" font-size="9.500px" fill="#404040">W1</text>
<text x="1191.5" y="12" font-family="Liberation Sans, sans-serif" font-size="9.500px" fill="#404040">MN</text>
<rect x="1214" y="1" width="1" height="17" fill="#a0a0a0"/>
<path d="M1681.600 8.500 L1677 12.700" stroke="#2f62d2" stroke-width="2.500" stroke-linecap="round"/>
<circle cx="1684.500" cy="5.400" r="3.700" fill="#f2f4fc" stroke="#2f62d2" stroke-width="1.400"/>
<path d="M1701.200 9.800 a6 4.600 0 1 1 6.500 4.500 l-3.300 2.600 l0.600 -2.800 a6 4.600 0 0 1 -3.800 -4.300Z" fill="#e4e4ec" stroke="#a4a4a8" stroke-width="0.900"/>
<circle cx="1715.600" cy="5.600" r="8.300" fill="#dc3a20"/>
<text x="1715.400" y="9.800" text-anchor="middle" font-family="DejaVu Sans, Liberation Sans, sans-serif" font-weight="bold" font-size="10.800px" fill="#fff">1</text>
</svg>
<div id="tw">
 <div class="top" style="left:0;top:0;width:50px;height:25px"></div>
 <div class="top" style="left:165px;top:0;width:52px;height:25px"></div>
 <div class="bot" style="left:0;top:24px;width:107px;height:33px"></div>
 <div class="bot" style="left:109px;top:24px;width:108px;height:33px"></div>
 <div style="left:2px;top:24px;width:44px;height:1px;background:#f08a8a"></div>
 <div style="left:169px;top:24px;width:44px;height:1px;background:#f08a8a"></div>
 <div class="lbl" style="left:10.3px;top:5px">SELL</div>
 <div class="lbl" style="left:178.5px;top:5px">BUY</div>
 <div style="left:52px;top:0px;width:111px;height:21.5px;background:#fff;border:1px solid #a9adbc;border-radius:1px"></div>
 <div style="left:53px;top:1px;width:20px;height:19.5px;background:linear-gradient(#f4f4f6,#d6d6dc);border-right:1px solid #b4b6c2"></div>
 <div style="left:142px;top:1px;width:20px;height:19.5px;background:linear-gradient(#f4f4f6,#d6d6dc);border-left:1px solid #b4b6c2"></div>
 <div style="left:60px;top:9px;width:0;height:0;border-left:2.5px solid transparent;border-right:2.5px solid transparent;border-top:3px solid #4a5ab0"></div>
 <div style="left:149px;top:9px;width:0;height:0;border-left:2.5px solid transparent;border-right:2.5px solid transparent;border-bottom:3px solid #4a5ab0"></div>
 <div style="left:100px;top:3.8px;width:37.5px;text-align:right;font-size:12px;line-height:14px;color:#101020">1.00</div>
 <div class="sm" style="left:18px;top:42.3px">1.41</div>
 <div class="big" style="left:45px;top:26px">13</div>
 <div class="sup" style="left:85px;top:26.8px">3</div>
 <div class="sm" style="left:128px;top:42.3px">1.41</div>
 <div class="big" style="left:156px;top:26px">16</div>
 <div class="sup" style="left:195.5px;top:26.8px">2</div>
</div>
</body></html>
